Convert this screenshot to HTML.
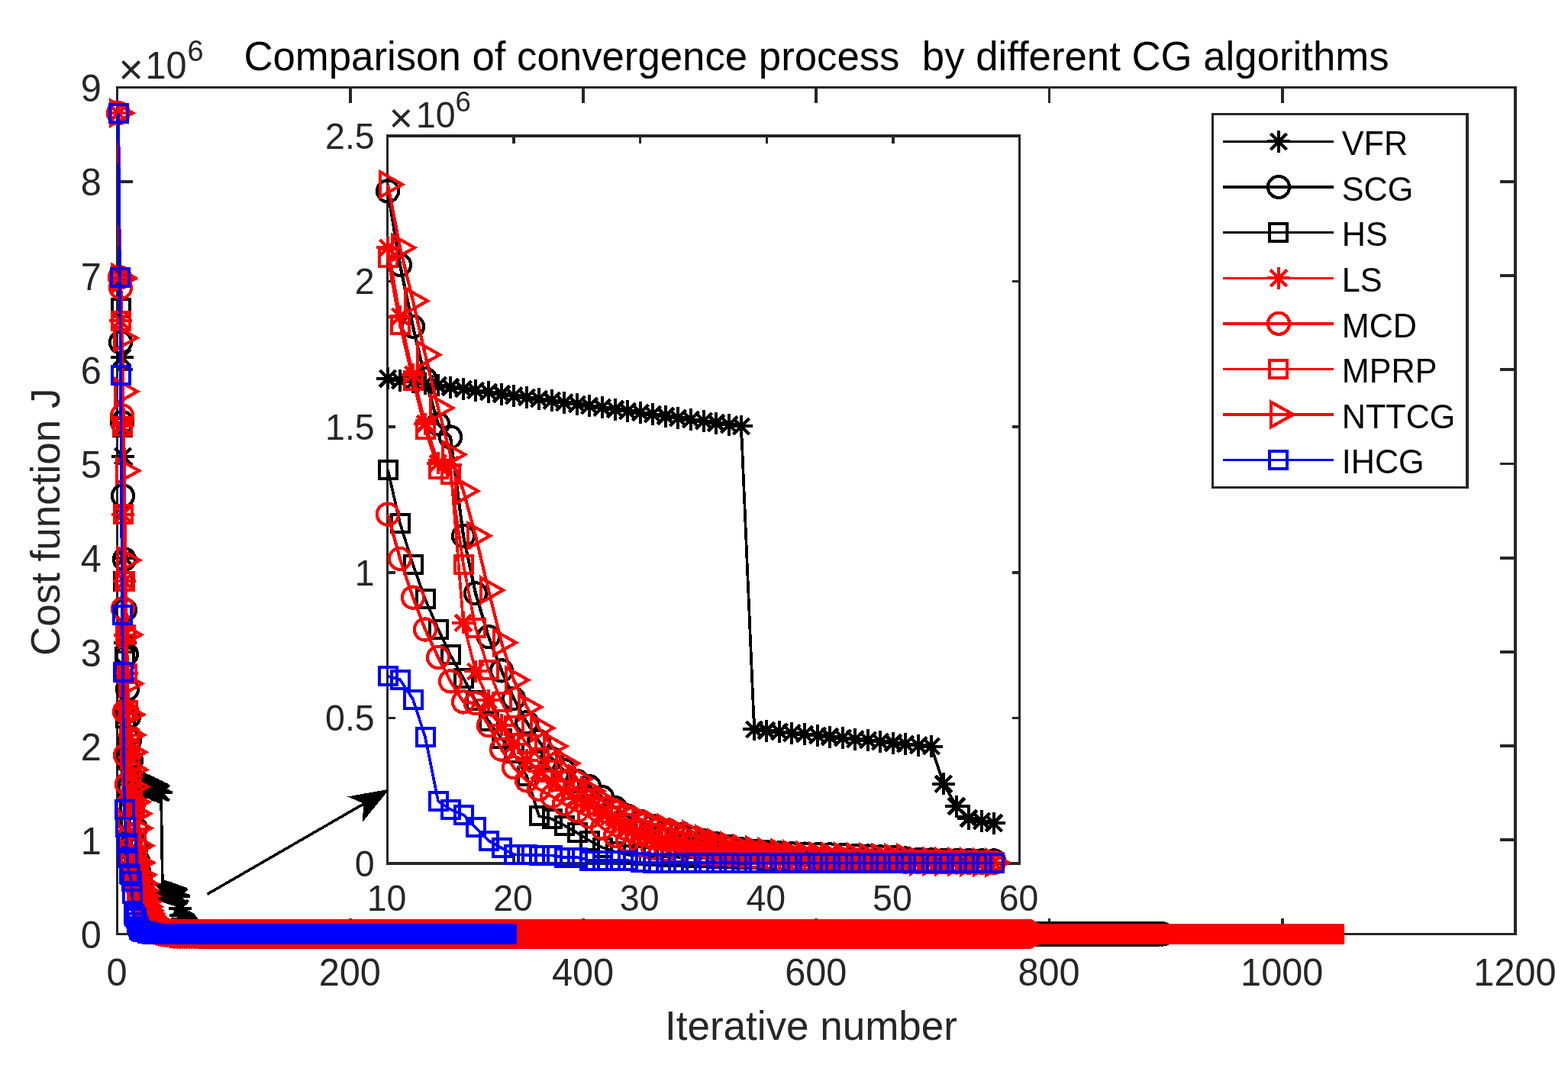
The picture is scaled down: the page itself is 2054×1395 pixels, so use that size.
<!DOCTYPE html>
<html lang="en"><head><meta charset="utf-8"><title>Comparison of convergence process by different CG algorithms</title>
<style>html,body{margin:0;padding:0;background:#fff}body{width:2054px;height:1395px;overflow:hidden}svg{display:block;font-family:"Liberation Sans",Arial,sans-serif}text{white-space:pre;font-variant-ligatures:none;font-kerning:normal}</style></head><body>
<svg width="2054" height="1395" viewBox="0 0 2054 1395" shape-rendering="crispEdges">
<defs><marker id="stk" markerUnits="userSpaceOnUse" markerWidth="60" markerHeight="60" viewBox="-30.0 -30.0 60 60" refX="0" refY="0" overflow="visible"><path d="M-14.9,0H14.9M0,-14.5V14.5" fill="none" stroke="#000" stroke-width="4"/><path d="M-10.60,-10.60L10.60,10.60M-10.60,10.60L10.60,-10.60" fill="none" stroke="#000" stroke-width="4.4"/></marker><marker id="cik" markerUnits="userSpaceOnUse" markerWidth="60" markerHeight="60" viewBox="-30.0 -30.0 60 60" refX="0" refY="0" overflow="visible"><circle r="14.05" fill="none" stroke="#000" stroke-width="4.2"/></marker><marker id="sqk" markerUnits="userSpaceOnUse" markerWidth="60" markerHeight="60" viewBox="-30.0 -30.0 60 60" refX="0" refY="0" overflow="visible"><rect x="-11.5" y="-11.5" width="23" height="23" fill="none" stroke="#000" stroke-width="4"/></marker><marker id="trk" markerUnits="userSpaceOnUse" markerWidth="60" markerHeight="60" viewBox="-30.0 -30.0 60 60" refX="0" refY="0" overflow="visible"><path d="M-9.7,-16.2L19.0,0L-9.7,16.2Z" fill="none" stroke="#000" stroke-width="4.2" stroke-linejoin="miter"/></marker><marker id="str" markerUnits="userSpaceOnUse" markerWidth="60" markerHeight="60" viewBox="-30.0 -30.0 60 60" refX="0" refY="0" overflow="visible"><path d="M-14.9,0H14.9M0,-14.5V14.5" fill="none" stroke="#f00" stroke-width="4"/><path d="M-10.60,-10.60L10.60,10.60M-10.60,10.60L10.60,-10.60" fill="none" stroke="#f00" stroke-width="4.4"/></marker><marker id="cir" markerUnits="userSpaceOnUse" markerWidth="60" markerHeight="60" viewBox="-30.0 -30.0 60 60" refX="0" refY="0" overflow="visible"><circle r="14.05" fill="none" stroke="#f00" stroke-width="4.2"/></marker><marker id="sqr" markerUnits="userSpaceOnUse" markerWidth="60" markerHeight="60" viewBox="-30.0 -30.0 60 60" refX="0" refY="0" overflow="visible"><rect x="-11.5" y="-11.5" width="23" height="23" fill="none" stroke="#f00" stroke-width="4"/></marker><marker id="trr" markerUnits="userSpaceOnUse" markerWidth="60" markerHeight="60" viewBox="-30.0 -30.0 60 60" refX="0" refY="0" overflow="visible"><path d="M-9.7,-16.2L19.0,0L-9.7,16.2Z" fill="none" stroke="#f00" stroke-width="4.2" stroke-linejoin="miter"/></marker><marker id="stb" markerUnits="userSpaceOnUse" markerWidth="60" markerHeight="60" viewBox="-30.0 -30.0 60 60" refX="0" refY="0" overflow="visible"><path d="M-14.9,0H14.9M0,-14.5V14.5" fill="none" stroke="#00f" stroke-width="4"/><path d="M-10.60,-10.60L10.60,10.60M-10.60,10.60L10.60,-10.60" fill="none" stroke="#00f" stroke-width="4.4"/></marker><marker id="cib" markerUnits="userSpaceOnUse" markerWidth="60" markerHeight="60" viewBox="-30.0 -30.0 60 60" refX="0" refY="0" overflow="visible"><circle r="14.05" fill="none" stroke="#00f" stroke-width="4.2"/></marker><marker id="sqb" markerUnits="userSpaceOnUse" markerWidth="60" markerHeight="60" viewBox="-30.0 -30.0 60 60" refX="0" refY="0" overflow="visible"><rect x="-11.5" y="-11.5" width="23" height="23" fill="none" stroke="#00f" stroke-width="4"/></marker><marker id="trb" markerUnits="userSpaceOnUse" markerWidth="60" markerHeight="60" viewBox="-30.0 -30.0 60 60" refX="0" refY="0" overflow="visible"><path d="M-9.7,-16.2L19.0,0L-9.7,16.2Z" fill="none" stroke="#00f" stroke-width="4.2" stroke-linejoin="miter"/></marker></defs>
<rect width="2054" height="1395" fill="#fff"/>
<g fill="#262626"><rect x="152" y="113" width="3" height="1112"/><rect x="1983" y="113" width="4" height="1112"/><rect x="152" y="113" width="1835" height="3"/><rect x="152" y="1222" width="1835" height="3"/></g><path d="M458.8,1223.5v-20.2M458.8,114.5v20.2M764.0,1223.5v-20.2M764.0,114.5v20.2M1069.2,1223.5v-20.2M1069.2,114.5v20.2M1374.5,1223.5v-20.2M1374.5,114.5v20.2M1679.8,1223.5v-20.2M1679.8,114.5v20.2M153.5,1100.3h20.2M1985.0,1100.3h-20.2M153.5,977.1h20.2M1985.0,977.1h-20.2M153.5,853.8h20.2M1985.0,853.8h-20.2M153.5,730.6h20.2M1985.0,730.6h-20.2M153.5,607.4h20.2M1985.0,607.4h-20.2M153.5,484.2h20.2M1985.0,484.2h-20.2M153.5,360.9h20.2M1985.0,360.9h-20.2M153.5,237.7h20.2M1985.0,237.7h-20.2" fill="none" stroke="#262626" stroke-width="3.8"/>
<g fill="#262626" font-size="48.7">
<text transform="translate(153.00,1291.00) scale(1,1.045)" text-anchor="middle">0</text>
<text transform="translate(458.25,1291.00) scale(1,1.045)" text-anchor="middle">200</text>
<text transform="translate(763.50,1291.00) scale(1,1.045)" text-anchor="middle">400</text>
<text transform="translate(1068.75,1291.00) scale(1,1.045)" text-anchor="middle">600</text>
<text transform="translate(1374.00,1291.00) scale(1,1.045)" text-anchor="middle">800</text>
<text transform="translate(1679.25,1291.00) scale(1,1.045)" text-anchor="middle">1000</text>
<text transform="translate(1984.50,1291.00) scale(1,1.045)" text-anchor="middle">1200</text>
<text transform="translate(132.80,1242.25) scale(1,1.045)" text-anchor="end">0</text>
<text transform="translate(132.80,1119.03) scale(1,1.045)" text-anchor="end">1</text>
<text transform="translate(132.80,995.81) scale(1,1.045)" text-anchor="end">2</text>
<text transform="translate(132.80,872.58) scale(1,1.045)" text-anchor="end">3</text>
<text transform="translate(132.80,749.36) scale(1,1.045)" text-anchor="end">4</text>
<text transform="translate(132.80,626.14) scale(1,1.045)" text-anchor="end">5</text>
<text transform="translate(132.80,502.92) scale(1,1.045)" text-anchor="end">6</text>
<text transform="translate(132.80,379.69) scale(1,1.045)" text-anchor="end">7</text>
<text transform="translate(132.80,256.47) scale(1,1.045)" text-anchor="end">8</text>
<text transform="translate(132.80,133.25) scale(1,1.045)" text-anchor="end">9</text>
<text transform="translate(155.20,109.60)" font-size="56">×</text><text transform="translate(190.50,102.80) scale(1,1.045)">10</text><text transform="translate(245.50,79.80) scale(1,1.045)" font-size="38">6</text>
</g>
<text x="1069.5" y="92.0" font-size="52.75" text-anchor="middle" fill="#000">Comparison of convergence process  by different CG algorithms</text>
<text x="1062.5" y="1361.8" font-size="53.0" text-anchor="middle" fill="#262626">Iterative number</text>
<text transform="translate(78.0,683.8) rotate(-90)" font-size="53.0" text-anchor="middle" fill="#262626">Cost function J</text>
<polyline points="155,148.1 157,363.4 158,363.4 160,468.1 161,597.8 163,730.6 164,841.5 166,927.8 167,983.2 169,1018.2 170,1018.9 172,1019.7 173,1020.4 175,1021.1 176,1021.8 178,1022.5 179,1023.3 181,1024.0 182,1024.7 184,1025.4 186,1026.2 187,1026.9 189,1027.6 190,1028.3 192,1029.0 193,1029.8 195,1030.5 196,1031.2 198,1031.9 199,1032.6 201,1033.4 202,1034.1 204,1034.8 205,1035.5 207,1036.3 208,1037.0 210,1037.7 211,1038.4 213,1166.7 215,1167.2 216,1167.8 218,1168.3 219,1168.8 221,1169.3 222,1169.8 224,1170.3 225,1170.9 227,1171.4 228,1171.9 230,1172.4 231,1172.9 233,1173.4 234,1174.0 236,1189.9 237,1199.3 239,1204.4 240,1205.6 242,1206.4 244,1208.1 245,1209.9 247,1211.8 248,1213.6 250,1215.4 251,1217.0 253,1218.4 254,1219.8 256,1220.9 257,1221.8 259,1222.4 260,1222.9 262,1223.1 263,1223.3 265,1223.4 266,1223.4 268,1223.4 269,1223.4 271,1223.4 273,1223.4 274,1223.4 276,1223.4 277,1223.4 279,1223.4 280,1223.4 282,1223.4 283,1223.4 285,1223.4 286,1223.4 288,1223.4 289,1223.4 291,1223.4 292,1223.4 294,1223.4 295,1223.4 297,1223.4 298,1223.4 300,1223.4 302,1223.4 303,1223.4 305,1223.4 306,1223.4 308,1223.4 309,1223.4 311,1223.4 312,1223.4 314,1223.4 315,1223.4 317,1223.4 318,1223.4 320,1223.4 321,1223.4 323,1223.4 324,1223.4 326,1223.4 327,1223.4 329,1223.4 331,1223.4 332,1223.4 334,1223.4 335,1223.4 337,1223.4 338,1223.4 340,1223.4 341,1223.4 343,1223.4 344,1223.4 346,1223.4 347,1223.4 349,1223.4 350,1223.4 352,1223.4 353,1223.4 355,1223.4 356,1223.4 358,1223.4 360,1223.4 361,1223.4 363,1223.4 364,1223.4 366,1223.4 367,1223.4 369,1223.4 370,1223.4 372,1223.4 373,1223.4 375,1223.4 376,1223.4 378,1223.4 379,1223.4 381,1223.4 382,1223.4 384,1223.4 385,1223.4 387,1223.4 389,1223.4 390,1223.4 392,1223.4 393,1223.4 395,1223.4 396,1223.4 398,1223.4 399,1223.4 401,1223.4 402,1223.4 404,1223.4 405,1223.4 407,1223.4 408,1223.4 410,1223.4 411,1223.4 413,1223.4 414,1223.4 416,1223.4 418,1223.4 419,1223.4 421,1223.4 422,1223.4 424,1223.4 425,1223.4 427,1223.4 428,1223.4 430,1223.4 431,1223.4 433,1223.4 434,1223.4 436,1223.4 437,1223.4 439,1223.4 440,1223.4 442,1223.4 443,1223.4 445,1223.4 447,1223.4 448,1223.4 450,1223.4 451,1223.4 453,1223.4 454,1223.4 456,1223.4 457,1223.4 459,1223.4 460,1223.4 462,1223.4 463,1223.4 465,1223.4 466,1223.4 468,1223.4 469,1223.4 471,1223.4 472,1223.4 474,1223.4 476,1223.4 477,1223.4 479,1223.4 480,1223.4 482,1223.4 483,1223.4 485,1223.4 486,1223.4 488,1223.4 489,1223.4 491,1223.4 492,1223.4 494,1223.4 495,1223.4 497,1223.4 498,1223.4 500,1223.4 501,1223.4 503,1223.4 505,1223.4 506,1223.4 508,1223.4 509,1223.4 511,1223.4 512,1223.4 514,1223.4 515,1223.4 517,1223.4 518,1223.4 520,1223.4 521,1223.4 523,1223.4 524,1223.4 526,1223.4 527,1223.4 529,1223.4 530,1223.4 532,1223.4 534,1223.4 535,1223.4 537,1223.4 538,1223.4 540,1223.4 541,1223.4 543,1223.4 544,1223.4 546,1223.4 547,1223.4 549,1223.4 550,1223.4 552,1223.4 553,1223.4 555,1223.4 556,1223.4 558,1223.4 559,1223.4 561,1223.4 563,1223.4 564,1223.4 566,1223.4 567,1223.4 569,1223.4 570,1223.4 572,1223.4 573,1223.4 575,1223.4 576,1223.4 578,1223.4 579,1223.4 581,1223.4 582,1223.4 584,1223.4 585,1223.4 587,1223.4 588,1223.4 590,1223.4 592,1223.4 593,1223.4 595,1223.4 596,1223.4 598,1223.4 599,1223.4 601,1223.4 602,1223.4 604,1223.4 605,1223.4 607,1223.4 608,1223.4 610,1223.4 611,1223.4" fill="none" stroke="#000" stroke-width="3.7" stroke-linejoin="round" marker-start="url(#stk)" marker-mid="url(#stk)" marker-end="url(#stk)"/>
<polyline points="155,148.1 157,363.4 158,448.4 160,553.2 161,649.5 163,732.6 164,799.1 166,857.0 167,902.8 169,938.9 170,970.0 172,996.2 173,1018.3 175,1037.4 176,1043.0 178,1084.9 179,1109.1 181,1127.6 182,1141.8 184,1153.6 186,1163.7 187,1171.7 189,1179.1 190,1184.1 192,1188.6 193,1190.8 195,1195.4 196,1200.0 198,1203.3 199,1205.6 201,1207.7 202,1209.6 204,1211.2 205,1212.7 207,1213.9 208,1215.1 210,1216.4 211,1217.5 213,1218.4 215,1218.7 216,1219.1 218,1219.3 219,1219.5 221,1219.6 222,1219.7 224,1219.9 225,1220.2 227,1220.4 228,1220.7 230,1221.0 231,1221.4 233,1221.8 234,1222.0 236,1222.2 237,1222.3 239,1222.3 240,1222.3 242,1222.3 244,1222.4 245,1222.6 247,1222.6 248,1222.7 250,1222.8 251,1222.9 253,1222.9 254,1223.0 256,1223.0 257,1223.1 259,1223.1 260,1223.2 262,1223.2 263,1223.2 265,1223.3 266,1223.3 268,1223.3 269,1223.3 271,1223.3 273,1223.4 274,1223.4 276,1223.4 277,1223.4 279,1223.4 280,1223.4 282,1223.4 283,1223.4 285,1223.4 286,1223.4 288,1223.4 289,1223.4 291,1223.4 292,1223.4 294,1223.4 295,1223.4 297,1223.4 298,1223.4 300,1223.4 302,1223.4 303,1223.4 305,1223.4 306,1223.4 308,1223.4 309,1223.4 311,1223.4 312,1223.4 314,1223.4 315,1223.4 317,1223.4 318,1223.4 320,1223.4 321,1223.4 323,1223.4 324,1223.4 326,1223.4 327,1223.4 329,1223.4 331,1223.4 332,1223.4 334,1223.4 335,1223.4 337,1223.4 338,1223.4 340,1223.4 341,1223.4 343,1223.4 344,1223.4 346,1223.4 347,1223.4 349,1223.4 350,1223.4 352,1223.4 353,1223.4 355,1223.4 356,1223.4 358,1223.4 360,1223.4 361,1223.4 363,1223.4 364,1223.4 366,1223.4 367,1223.4 369,1223.4 370,1223.4 372,1223.4 373,1223.4 375,1223.4 376,1223.4 378,1223.4 379,1223.4 381,1223.4 382,1223.4 384,1223.4 385,1223.4 387,1223.4 389,1223.4 390,1223.4 392,1223.4 393,1223.4 395,1223.4 396,1223.4 398,1223.4 399,1223.4 401,1223.4 402,1223.4 404,1223.4 405,1223.4 407,1223.4 408,1223.4 410,1223.4 411,1223.4 413,1223.4 414,1223.4 416,1223.4 418,1223.4 419,1223.4 421,1223.4 422,1223.4 424,1223.4 425,1223.4 427,1223.4 428,1223.4 430,1223.4 431,1223.4 433,1223.4 434,1223.4 436,1223.4 437,1223.4 439,1223.4 440,1223.4 442,1223.4 443,1223.4 445,1223.4 447,1223.4 448,1223.4 450,1223.4 451,1223.4 453,1223.4 454,1223.4 456,1223.4 457,1223.4 459,1223.4 460,1223.4 462,1223.4 463,1223.4 465,1223.4 466,1223.4 468,1223.4 469,1223.4 471,1223.4 472,1223.4 474,1223.4 476,1223.4 477,1223.4 479,1223.4 480,1223.4 482,1223.4 483,1223.4 485,1223.4 486,1223.4 488,1223.4 489,1223.4 491,1223.4 492,1223.4 494,1223.4 495,1223.4 497,1223.4 498,1223.4 500,1223.4 501,1223.4 503,1223.4 505,1223.4 506,1223.4 508,1223.4 509,1223.4 511,1223.4 512,1223.4 514,1223.4 515,1223.4 517,1223.4 518,1223.4 520,1223.4 521,1223.4 523,1223.4 524,1223.4 526,1223.4 527,1223.4 529,1223.4 530,1223.4 532,1223.4 534,1223.4 535,1223.4 537,1223.4 538,1223.4 540,1223.4 541,1223.4 543,1223.4 544,1223.4 546,1223.4 547,1223.4 549,1223.4 550,1223.4 552,1223.4 553,1223.4 555,1223.4 556,1223.4 558,1223.4 559,1223.4 561,1223.4 563,1223.4 564,1223.4 566,1223.4 567,1223.4 569,1223.4 570,1223.4 572,1223.4 573,1223.4 575,1223.4 576,1223.4 578,1223.4 579,1223.4 581,1223.4 582,1223.4 584,1223.4 585,1223.4 587,1223.4 588,1223.4 590,1223.4 592,1223.4 593,1223.4 595,1223.4 596,1223.4 598,1223.4 599,1223.4 601,1223.4 602,1223.4 604,1223.4 605,1223.4 607,1223.4 608,1223.4 610,1223.4 611,1223.4 613,1223.4 614,1223.4 616,1223.4 617,1223.4 619,1223.4 621,1223.4 622,1223.4 624,1223.4 625,1223.4 627,1223.4 628,1223.4 630,1223.4 631,1223.4 633,1223.4 634,1223.4 636,1223.4 637,1223.4 639,1223.4 640,1223.4 642,1223.4 643,1223.4 645,1223.4 646,1223.4 648,1223.4 650,1223.4 651,1223.4 653,1223.4 654,1223.4 656,1223.4 657,1223.4 659,1223.4 660,1223.4 662,1223.4 663,1223.4 665,1223.4 666,1223.4 668,1223.4 669,1223.4 671,1223.4 672,1223.4 674,1223.4 675,1223.4 677,1223.4 679,1223.4 680,1223.4 682,1223.4 683,1223.4 685,1223.4 686,1223.4 688,1223.4 689,1223.4 691,1223.4 692,1223.4 694,1223.4 695,1223.4 697,1223.4 698,1223.4 700,1223.4 701,1223.4 703,1223.4 704,1223.4 706,1223.4 708,1223.4 709,1223.4 711,1223.4 712,1223.4 714,1223.4 715,1223.4 717,1223.4 718,1223.4 720,1223.4 721,1223.4 723,1223.4 724,1223.4 726,1223.4 727,1223.4 729,1223.4 730,1223.4 732,1223.4 733,1223.4 735,1223.4 737,1223.4 738,1223.4 740,1223.4 741,1223.4 743,1223.4 744,1223.4 746,1223.4 747,1223.4 749,1223.4 750,1223.4 752,1223.4 753,1223.4 755,1223.4 756,1223.4 758,1223.4 759,1223.4 761,1223.4 762,1223.4 764,1223.4 766,1223.4 767,1223.4 769,1223.4 770,1223.4 772,1223.4 773,1223.4 775,1223.4 776,1223.4 778,1223.4 779,1223.4 781,1223.4 782,1223.4 784,1223.4 785,1223.4 787,1223.4 788,1223.4 790,1223.4 791,1223.4 793,1223.4 795,1223.4 796,1223.4 798,1223.4 799,1223.4 801,1223.4 802,1223.4 804,1223.4 805,1223.4 807,1223.4 808,1223.4 810,1223.4 811,1223.4 813,1223.4 814,1223.4 816,1223.4 817,1223.4 819,1223.4 820,1223.4 822,1223.4 824,1223.4 825,1223.4 827,1223.4 828,1223.4 830,1223.4 831,1223.4 833,1223.4 834,1223.4 836,1223.4 837,1223.4 839,1223.4 840,1223.4 842,1223.4 843,1223.4 845,1223.4 846,1223.4 848,1223.4 849,1223.4 851,1223.4 853,1223.4 854,1223.4 856,1223.4 857,1223.4 859,1223.4 860,1223.4 862,1223.4 863,1223.4 865,1223.4 866,1223.4 868,1223.4 869,1223.4 871,1223.4 872,1223.4 874,1223.4 875,1223.4 877,1223.4 878,1223.4 880,1223.4 882,1223.4 883,1223.4 885,1223.4 886,1223.4 888,1223.4 889,1223.4 891,1223.4 892,1223.4 894,1223.4 895,1223.4 897,1223.4 898,1223.4 900,1223.4 901,1223.4 903,1223.4 904,1223.4 906,1223.4 907,1223.4 909,1223.4 911,1223.4 912,1223.4 914,1223.4 915,1223.4 917,1223.4 918,1223.4 920,1223.4 921,1223.4 923,1223.4 924,1223.4 926,1223.4 927,1223.4 929,1223.4 930,1223.4 932,1223.4 933,1223.4 935,1223.4 936,1223.4 938,1223.4 940,1223.4 941,1223.4 943,1223.4 944,1223.4 946,1223.4 947,1223.4 949,1223.4 950,1223.4 952,1223.4 953,1223.4 955,1223.4 956,1223.4 958,1223.4 959,1223.4 961,1223.4 962,1223.4 964,1223.4 965,1223.4 967,1223.4 969,1223.4 970,1223.4 972,1223.4 973,1223.4 975,1223.4 976,1223.4 978,1223.4 979,1223.4 981,1223.4 982,1223.4 984,1223.4 985,1223.4 987,1223.4 988,1223.4 990,1223.4 991,1223.4 993,1223.4 994,1223.4 996,1223.4 998,1223.4 999,1223.4 1001,1223.4 1002,1223.4 1004,1223.4 1005,1223.4 1007,1223.4 1008,1223.4 1010,1223.4 1011,1223.4 1013,1223.4 1014,1223.4 1016,1223.4 1017,1223.4 1019,1223.4 1020,1223.4 1022,1223.4 1023,1223.4 1025,1223.4 1027,1223.4 1028,1223.4 1030,1223.4 1031,1223.4 1033,1223.4 1034,1223.4 1036,1223.4 1037,1223.4 1039,1223.4 1040,1223.4 1042,1223.4 1043,1223.4 1045,1223.4 1046,1223.4 1048,1223.4 1049,1223.4 1051,1223.4 1052,1223.4 1054,1223.4 1056,1223.4 1057,1223.4 1059,1223.4 1060,1223.4 1062,1223.4 1063,1223.4 1065,1223.4 1066,1223.4 1068,1223.4 1069,1223.4 1071,1223.4 1072,1223.4 1074,1223.4 1075,1223.4 1077,1223.4 1078,1223.4 1080,1223.4 1081,1223.4 1083,1223.4 1085,1223.4 1086,1223.4 1088,1223.4 1089,1223.4 1091,1223.4 1092,1223.4 1094,1223.4 1095,1223.4 1097,1223.4 1098,1223.4 1100,1223.4 1101,1223.4 1103,1223.4 1104,1223.4 1106,1223.4 1107,1223.4 1109,1223.4 1110,1223.4 1112,1223.4 1114,1223.4 1115,1223.4 1117,1223.4 1118,1223.4 1120,1223.4 1121,1223.4 1123,1223.4 1124,1223.4 1126,1223.4 1127,1223.4 1129,1223.4 1130,1223.4 1132,1223.4 1133,1223.4 1135,1223.4 1136,1223.4 1138,1223.4 1139,1223.4 1141,1223.4 1143,1223.4 1144,1223.4 1146,1223.4 1147,1223.4 1149,1223.4 1150,1223.4 1152,1223.4 1153,1223.4 1155,1223.4 1156,1223.4 1158,1223.4 1159,1223.4 1161,1223.4 1162,1223.4 1164,1223.4 1165,1223.4 1167,1223.4 1168,1223.4 1170,1223.4 1172,1223.4 1173,1223.4 1175,1223.4 1176,1223.4 1178,1223.4 1179,1223.4 1181,1223.4 1182,1223.4 1184,1223.4 1185,1223.4 1187,1223.4 1188,1223.4 1190,1223.4 1191,1223.4 1193,1223.4 1194,1223.4 1196,1223.4 1197,1223.4 1199,1223.4 1201,1223.4 1202,1223.4 1204,1223.4 1205,1223.4 1207,1223.4 1208,1223.4 1210,1223.4 1211,1223.4 1213,1223.4 1214,1223.4 1216,1223.4 1217,1223.4 1219,1223.4 1220,1223.4 1222,1223.4 1223,1223.4 1225,1223.4 1226,1223.4 1228,1223.4 1230,1223.4 1231,1223.4 1233,1223.4 1234,1223.4 1236,1223.4 1237,1223.4 1239,1223.4 1240,1223.4 1242,1223.4 1243,1223.4 1245,1223.4 1246,1223.4 1248,1223.4 1249,1223.4 1251,1223.4 1252,1223.4 1254,1223.4 1255,1223.4 1257,1223.4 1259,1223.4 1260,1223.4 1262,1223.4 1263,1223.4 1265,1223.4 1266,1223.4 1268,1223.4 1269,1223.4 1271,1223.4 1272,1223.4 1274,1223.4 1275,1223.4 1277,1223.4 1278,1223.4 1280,1223.4 1281,1223.4 1283,1223.4 1284,1223.4 1286,1223.4 1288,1223.4 1289,1223.4 1291,1223.4 1292,1223.4 1294,1223.4 1295,1223.4 1297,1223.4 1298,1223.4 1300,1223.4 1301,1223.4 1303,1223.4 1304,1223.4 1306,1223.4 1307,1223.4 1309,1223.4 1310,1223.4 1312,1223.4 1313,1223.4 1315,1223.4 1317,1223.4 1318,1223.4 1320,1223.4 1321,1223.4 1323,1223.4 1324,1223.4 1326,1223.4 1327,1223.4 1329,1223.4 1330,1223.4 1332,1223.4 1333,1223.4 1335,1223.4 1336,1223.4 1338,1223.4 1339,1223.4 1341,1223.4 1342,1223.4 1344,1223.4 1346,1223.4 1347,1223.4 1349,1223.4 1350,1223.4 1352,1223.4 1353,1223.4 1355,1223.4 1356,1223.4 1358,1223.4 1359,1223.4 1361,1223.4 1362,1223.4 1364,1223.4 1365,1223.4 1367,1223.4 1368,1223.4 1370,1223.4 1371,1223.4 1373,1223.4 1374,1223.4 1376,1223.4 1378,1223.4 1379,1223.4 1381,1223.4 1382,1223.4 1384,1223.4 1385,1223.4 1387,1223.4 1388,1223.4 1390,1223.4 1391,1223.4 1393,1223.4 1394,1223.4 1396,1223.4 1397,1223.4 1399,1223.4 1400,1223.4 1402,1223.4 1403,1223.4 1405,1223.4 1407,1223.4 1408,1223.4 1410,1223.4 1411,1223.4 1413,1223.4 1414,1223.4 1416,1223.4 1417,1223.4 1419,1223.4 1420,1223.4 1422,1223.4 1423,1223.4 1425,1223.4 1426,1223.4 1428,1223.4 1429,1223.4 1431,1223.4 1432,1223.4 1434,1223.4 1436,1223.4 1437,1223.4 1439,1223.4 1440,1223.4 1442,1223.4 1443,1223.4 1445,1223.4 1446,1223.4 1448,1223.4 1449,1223.4 1451,1223.4 1452,1223.4 1454,1223.4 1455,1223.4 1457,1223.4 1458,1223.4 1460,1223.4 1461,1223.4 1463,1223.4 1465,1223.4 1466,1223.4 1468,1223.4 1469,1223.4 1471,1223.4 1472,1223.4 1474,1223.4 1475,1223.4 1477,1223.4 1478,1223.4 1480,1223.4 1481,1223.4 1483,1223.4 1484,1223.4 1486,1223.4 1487,1223.4 1489,1223.4 1490,1223.4 1492,1223.4 1494,1223.4 1495,1223.4 1497,1223.4 1498,1223.4 1500,1223.4 1501,1223.4 1503,1223.4 1504,1223.4 1506,1223.4 1507,1223.4 1509,1223.4 1510,1223.4 1512,1223.4 1513,1223.4 1515,1223.4 1516,1223.4 1518,1223.4 1519,1223.4 1521,1223.4 1523,1223.4" fill="none" stroke="#000" stroke-width="4.2" stroke-linejoin="round" marker-start="url(#cik)" marker-mid="url(#cik)" marker-end="url(#cik)"/>
<polyline points="155,148.1 157,363.4 158,403.5 160,559.3 161,761.4 163,860.0 164,940.1 166,995.5 167,1032.5 169,1056.8 170,1079.5 172,1097.0 173,1111.6 175,1124.3 176,1135.2 178,1145.0 179,1154.5 181,1163.1 182,1170.5 184,1176.7 186,1186.5 187,1203.4 189,1204.6 190,1207.4 192,1210.5 193,1213.8 195,1216.7 196,1218.6 198,1219.8 199,1220.1 201,1220.3 202,1220.6 204,1220.8 205,1221.0 207,1221.2 208,1221.4 210,1221.5 211,1221.7 213,1221.8 215,1222.0 216,1222.1 218,1222.2 219,1222.3 221,1222.4 222,1222.5 224,1222.5 225,1222.6 227,1222.7 228,1222.7 230,1222.8 231,1222.9 233,1222.9 234,1223.0 236,1223.0 237,1223.0 239,1223.1 240,1223.1 242,1223.1 244,1223.2 245,1223.2 247,1223.2 248,1223.3 250,1223.3 251,1223.3 253,1223.3 254,1223.3 256,1223.4 257,1223.4 259,1223.4 260,1223.4 262,1223.4 263,1223.4 265,1223.4 266,1223.4 268,1223.4 269,1223.4 271,1223.4 273,1223.4 274,1223.4 276,1223.4 277,1223.4 279,1223.4 280,1223.4 282,1223.4 283,1223.4 285,1223.4 286,1223.4 288,1223.4 289,1223.4 291,1223.4 292,1223.4 294,1223.4 295,1223.4 297,1223.4 298,1223.4 300,1223.4 302,1223.4 303,1223.4 305,1223.4 306,1223.4 308,1223.4 309,1223.4 311,1223.4 312,1223.4 314,1223.4 315,1223.4 317,1223.4 318,1223.4 320,1223.4 321,1223.4 323,1223.4 324,1223.4 326,1223.4 327,1223.4 329,1223.4 331,1223.4 332,1223.4 334,1223.4 335,1223.4 337,1223.4 338,1223.4 340,1223.4 341,1223.4 343,1223.4 344,1223.4 346,1223.4 347,1223.4 349,1223.4 350,1223.4 352,1223.4 353,1223.4 355,1223.4 356,1223.4 358,1223.4 360,1223.4 361,1223.4 363,1223.4 364,1223.4 366,1223.4 367,1223.4 369,1223.4 370,1223.4 372,1223.4 373,1223.4 375,1223.4 376,1223.4 378,1223.4 379,1223.4 381,1223.4 382,1223.4 384,1223.4 385,1223.4 387,1223.4 389,1223.4 390,1223.4 392,1223.4 393,1223.4 395,1223.4 396,1223.4 398,1223.4 399,1223.4 401,1223.4 402,1223.4 404,1223.4 405,1223.4 407,1223.4 408,1223.4 410,1223.4 411,1223.4 413,1223.4 414,1223.4 416,1223.4 418,1223.4 419,1223.4 421,1223.4 422,1223.4 424,1223.4 425,1223.4 427,1223.4 428,1223.4 430,1223.4 431,1223.4 433,1223.4 434,1223.4 436,1223.4 437,1223.4 439,1223.4 440,1223.4 442,1223.4 443,1223.4 445,1223.4 447,1223.4 448,1223.4 450,1223.4 451,1223.4 453,1223.4 454,1223.4 456,1223.4 457,1223.4 459,1223.4 460,1223.4 462,1223.4 463,1223.4 465,1223.4 466,1223.4 468,1223.4 469,1223.4 471,1223.4 472,1223.4 474,1223.4 476,1223.4 477,1223.4 479,1223.4 480,1223.4 482,1223.4 483,1223.4 485,1223.4 486,1223.4 488,1223.4 489,1223.4 491,1223.4 492,1223.4 494,1223.4 495,1223.4 497,1223.4 498,1223.4 500,1223.4 501,1223.4 503,1223.4 505,1223.4 506,1223.4 508,1223.4 509,1223.4 511,1223.4 512,1223.4 514,1223.4 515,1223.4 517,1223.4 518,1223.4 520,1223.4 521,1223.4 523,1223.4 524,1223.4 526,1223.4 527,1223.4 529,1223.4 530,1223.4 532,1223.4 534,1223.4 535,1223.4 537,1223.4 538,1223.4 540,1223.4 541,1223.4 543,1223.4 544,1223.4 546,1223.4 547,1223.4 549,1223.4 550,1223.4 552,1223.4 553,1223.4 555,1223.4 556,1223.4 558,1223.4 559,1223.4 561,1223.4 563,1223.4 564,1223.4 566,1223.4 567,1223.4 569,1223.4 570,1223.4 572,1223.4 573,1223.4 575,1223.4 576,1223.4 578,1223.4 579,1223.4 581,1223.4 582,1223.4 584,1223.4 585,1223.4 587,1223.4 588,1223.4 590,1223.4 592,1223.4 593,1223.4 595,1223.4 596,1223.4 598,1223.4 599,1223.4 601,1223.4 602,1223.4 604,1223.4 605,1223.4 607,1223.4 608,1223.4 610,1223.4 611,1223.4" fill="none" stroke="#000" stroke-width="3.7" stroke-linejoin="round" marker-start="url(#sqk)" marker-mid="url(#sqk)" marker-end="url(#sqk)"/>
<polyline points="155,148.1 157,363.4 158,420.1 160,558.1 161,673.6 163,761.3 164,831.7 166,882.2 167,927.8 169,962.8 170,992.0 172,1016.5 173,1037.3 175,1054.1 176,1054.7 178,1121.7 179,1142.2 181,1154.4 182,1164.8 184,1173.0 186,1179.8 187,1184.5 189,1188.7 190,1192.5 192,1195.9 193,1198.9 195,1202.6 196,1205.9 198,1208.8 199,1211.2 201,1212.7 202,1214.1 204,1215.3 205,1216.4 207,1217.3 208,1218.1 210,1218.6 211,1219.1 213,1219.6 215,1220.0 216,1220.4 218,1220.7 219,1221.0 221,1221.2 222,1221.5 224,1221.7 225,1221.9 227,1222.0 228,1222.2 230,1222.3 231,1222.4 233,1222.6 234,1222.6 236,1222.7 237,1222.8 239,1222.9 240,1223.0 242,1223.0 244,1223.1 245,1223.1 247,1223.1 248,1223.2 250,1223.2 251,1223.2 253,1223.3 254,1223.3 256,1223.3 257,1223.3 259,1223.3 260,1223.4 262,1223.4 263,1223.4 265,1223.4 266,1223.4 268,1223.4 269,1223.4 271,1223.4 273,1223.4 274,1223.4 276,1223.4 277,1223.4 279,1223.4 280,1223.4 282,1223.4 283,1223.4 285,1223.4 286,1223.4 288,1223.4 289,1223.4 291,1223.4 292,1223.4 294,1223.4 295,1223.4 297,1223.4 298,1223.4 300,1223.4 302,1223.4 303,1223.4 305,1223.4 306,1223.4 308,1223.4 309,1223.4 311,1223.4 312,1223.4 314,1223.4 315,1223.4 317,1223.4 318,1223.4 320,1223.4 321,1223.4 323,1223.4 324,1223.4 326,1223.4 327,1223.4 329,1223.4 331,1223.4 332,1223.4 334,1223.4 335,1223.4 337,1223.4 338,1223.4 340,1223.4 341,1223.4 343,1223.4 344,1223.4 346,1223.4 347,1223.4 349,1223.4 350,1223.4 352,1223.4 353,1223.4 355,1223.4 356,1223.4 358,1223.4 360,1223.4 361,1223.4 363,1223.4 364,1223.4 366,1223.4 367,1223.4 369,1223.4 370,1223.4 372,1223.4 373,1223.4 375,1223.4 376,1223.4 378,1223.4 379,1223.4 381,1223.4 382,1223.4 384,1223.4 385,1223.4 387,1223.4 389,1223.4 390,1223.4 392,1223.4 393,1223.4 395,1223.4 396,1223.4 398,1223.4 399,1223.4 401,1223.4 402,1223.4 404,1223.4 405,1223.4 407,1223.4 408,1223.4 410,1223.4 411,1223.4 413,1223.4 414,1223.4 416,1223.4 418,1223.4 419,1223.4 421,1223.4 422,1223.4 424,1223.4 425,1223.4 427,1223.4 428,1223.4 430,1223.4 431,1223.4 433,1223.4 434,1223.4 436,1223.4 437,1223.4 439,1223.4 440,1223.4 442,1223.4 443,1223.4 445,1223.4 447,1223.4 448,1223.4 450,1223.4 451,1223.4 453,1223.4 454,1223.4 456,1223.4 457,1223.4 459,1223.4 460,1223.4 462,1223.4 463,1223.4 465,1223.4 466,1223.4 468,1223.4 469,1223.4 471,1223.4 472,1223.4 474,1223.4 476,1223.4 477,1223.4 479,1223.4 480,1223.4 482,1223.4 483,1223.4 485,1223.4 486,1223.4 488,1223.4 489,1223.4 491,1223.4 492,1223.4 494,1223.4 495,1223.4 497,1223.4 498,1223.4 500,1223.4 501,1223.4 503,1223.4 505,1223.4 506,1223.4 508,1223.4 509,1223.4 511,1223.4 512,1223.4 514,1223.4 515,1223.4 517,1223.4 518,1223.4 520,1223.4 521,1223.4 523,1223.4 524,1223.4 526,1223.4 527,1223.4 529,1223.4 530,1223.4 532,1223.4 534,1223.4 535,1223.4 537,1223.4 538,1223.4 540,1223.4 541,1223.4 543,1223.4 544,1223.4 546,1223.4 547,1223.4 549,1223.4 550,1223.4 552,1223.4 553,1223.4 555,1223.4 556,1223.4 558,1223.4 559,1223.4 561,1223.4 563,1223.4 564,1223.4 566,1223.4 567,1223.4 569,1223.4 570,1223.4 572,1223.4 573,1223.4 575,1223.4 576,1223.4 578,1223.4 579,1223.4 581,1223.4 582,1223.4 584,1223.4 585,1223.4 587,1223.4 588,1223.4 590,1223.4 592,1223.4 593,1223.4 595,1223.4 596,1223.4 598,1223.4 599,1223.4 601,1223.4 602,1223.4 604,1223.4 605,1223.4 607,1223.4 608,1223.4 610,1223.4 611,1223.4" fill="none" stroke="#f00" stroke-width="3.7" stroke-linejoin="round" marker-start="url(#str)" marker-mid="url(#str)" marker-end="url(#str)"/>
<polyline points="155,148.1 157,363.4 158,377.0 160,544.5 161,797.2 163,932.2 164,989.4 166,1027.2 167,1054.7 169,1075.6 170,1094.5 172,1110.9 173,1124.4 175,1136.3 176,1146.4 178,1155.1 179,1155.7 181,1165.1 182,1175.2 184,1182.8 186,1188.4 187,1192.1 189,1195.2 190,1198.2 192,1201.3 193,1203.8 195,1208.5 196,1211.8 198,1213.9 199,1215.6 201,1217.0 202,1217.6 204,1218.2 205,1218.8 207,1219.2 208,1219.7 210,1220.0 211,1220.4 213,1220.7 215,1221.0 216,1221.2 218,1221.5 219,1221.7 221,1221.9 222,1222.0 224,1222.2 225,1222.3 227,1222.4 228,1222.5 230,1222.6 231,1222.7 233,1222.8 234,1222.9 236,1222.9 237,1223.0 239,1223.0 240,1223.1 242,1223.1 244,1223.2 245,1223.2 247,1223.2 248,1223.3 250,1223.3 251,1223.3 253,1223.3 254,1223.3 256,1223.4 257,1223.4 259,1223.4 260,1223.4 262,1223.4 263,1223.4 265,1223.4 266,1223.4 268,1223.4 269,1223.4 271,1223.4 273,1223.4 274,1223.4 276,1223.4 277,1223.4 279,1223.4 280,1223.4 282,1223.4 283,1223.4 285,1223.4 286,1223.4 288,1223.4 289,1223.4 291,1223.4 292,1223.4 294,1223.4 295,1223.4 297,1223.4 298,1223.4 300,1223.4 302,1223.4 303,1223.4 305,1223.4 306,1223.4 308,1223.4 309,1223.4 311,1223.4 312,1223.4 314,1223.4 315,1223.4 317,1223.4 318,1223.4 320,1223.4 321,1223.4 323,1223.4 324,1223.4 326,1223.4 327,1223.4 329,1223.4 331,1223.4 332,1223.4 334,1223.4 335,1223.4 337,1223.4 338,1223.4 340,1223.4 341,1223.4 343,1223.4 344,1223.4 346,1223.4 347,1223.4 349,1223.4 350,1223.4 352,1223.4 353,1223.4 355,1223.4 356,1223.4 358,1223.4 360,1223.4 361,1223.4 363,1223.4 364,1223.4 366,1223.4 367,1223.4 369,1223.4 370,1223.4 372,1223.4 373,1223.4 375,1223.4 376,1223.4 378,1223.4 379,1223.4 381,1223.4 382,1223.4 384,1223.4 385,1223.4 387,1223.4 389,1223.4 390,1223.4 392,1223.4 393,1223.4 395,1223.4 396,1223.4 398,1223.4 399,1223.4 401,1223.4 402,1223.4 404,1223.4 405,1223.4 407,1223.4 408,1223.4 410,1223.4 411,1223.4 413,1223.4 414,1223.4 416,1223.4 418,1223.4 419,1223.4 421,1223.4 422,1223.4 424,1223.4 425,1223.4 427,1223.4 428,1223.4 430,1223.4 431,1223.4 433,1223.4 434,1223.4 436,1223.4 437,1223.4 439,1223.4 440,1223.4 442,1223.4 443,1223.4 445,1223.4 447,1223.4 448,1223.4 450,1223.4 451,1223.4 453,1223.4 454,1223.4 456,1223.4 457,1223.4 459,1223.4 460,1223.4 462,1223.4 463,1223.4 465,1223.4 466,1223.4 468,1223.4 469,1223.4 471,1223.4 472,1223.4 474,1223.4 476,1223.4 477,1223.4 479,1223.4 480,1223.4 482,1223.4 483,1223.4 485,1223.4 486,1223.4 488,1223.4 489,1223.4 491,1223.4 492,1223.4 494,1223.4 495,1223.4 497,1223.4 498,1223.4 500,1223.4 501,1223.4 503,1223.4 505,1223.4 506,1223.4 508,1223.4 509,1223.4 511,1223.4 512,1223.4 514,1223.4 515,1223.4 517,1223.4 518,1223.4 520,1223.4 521,1223.4 523,1223.4 524,1223.4 526,1223.4 527,1223.4 529,1223.4 530,1223.4 532,1223.4 534,1223.4 535,1223.4 537,1223.4 538,1223.4 540,1223.4 541,1223.4 543,1223.4 544,1223.4 546,1223.4 547,1223.4 549,1223.4 550,1223.4 552,1223.4 553,1223.4 555,1223.4 556,1223.4 558,1223.4 559,1223.4 561,1223.4 563,1223.4 564,1223.4 566,1223.4 567,1223.4 569,1223.4 570,1223.4 572,1223.4 573,1223.4 575,1223.4 576,1223.4 578,1223.4 579,1223.4 581,1223.4 582,1223.4 584,1223.4 585,1223.4 587,1223.4 588,1223.4 590,1223.4 592,1223.4 593,1223.4 595,1223.4 596,1223.4 598,1223.4 599,1223.4 601,1223.4 602,1223.4 604,1223.4 605,1223.4 607,1223.4 608,1223.4 610,1223.4 611,1223.4" fill="none" stroke="#f00" stroke-width="4.2" stroke-linejoin="round" marker-start="url(#cir)" marker-mid="url(#cir)" marker-end="url(#cir)"/>
<polyline points="155,148.1 157,363.4 158,420.1 160,558.1 161,673.6 163,761.3 164,831.7 166,882.2 167,930.2 169,967.0 170,995.4 172,1019.0 173,1039.8 175,1056.4 176,1058.9 178,1097.0 179,1123.8 181,1141.5 182,1155.1 184,1165.1 186,1173.0 187,1178.7 189,1183.8 190,1188.3 192,1192.2 193,1195.8 195,1199.5 196,1203.3 198,1206.6 199,1209.3 201,1211.2 202,1212.7 204,1214.1 205,1215.3 207,1216.4 208,1217.3 210,1218.0 211,1218.6 213,1219.1 215,1219.6 216,1220.0 218,1220.4 219,1220.7 221,1221.0 222,1221.3 224,1221.5 225,1221.8 227,1221.9 228,1222.1 230,1222.3 231,1222.4 233,1222.5 234,1222.6 236,1222.7 237,1222.8 239,1222.9 240,1222.9 242,1223.0 244,1223.1 245,1223.1 247,1223.1 248,1223.2 250,1223.2 251,1223.2 253,1223.3 254,1223.3 256,1223.3 257,1223.3 259,1223.3 260,1223.4 262,1223.4 263,1223.4 265,1223.4 266,1223.4 268,1223.4 269,1223.4 271,1223.4 273,1223.4 274,1223.4 276,1223.4 277,1223.4 279,1223.4 280,1223.4 282,1223.4 283,1223.4 285,1223.4 286,1223.4 288,1223.4 289,1223.4 291,1223.4 292,1223.4 294,1223.4 295,1223.4 297,1223.4 298,1223.4 300,1223.4 302,1223.4 303,1223.4 305,1223.4 306,1223.4 308,1223.4 309,1223.4 311,1223.4 312,1223.4 314,1223.4 315,1223.4 317,1223.4 318,1223.4 320,1223.4 321,1223.4 323,1223.4 324,1223.4 326,1223.4 327,1223.4 329,1223.4 331,1223.4 332,1223.4 334,1223.4 335,1223.4 337,1223.4 338,1223.4 340,1223.4 341,1223.4 343,1223.4 344,1223.4 346,1223.4 347,1223.4 349,1223.4 350,1223.4 352,1223.4 353,1223.4 355,1223.4 356,1223.4 358,1223.4 360,1223.4 361,1223.4 363,1223.4 364,1223.4 366,1223.4 367,1223.4 369,1223.4 370,1223.4 372,1223.4 373,1223.4 375,1223.4 376,1223.4 378,1223.4 379,1223.4 381,1223.4 382,1223.4 384,1223.4 385,1223.4 387,1223.4 389,1223.4 390,1223.4 392,1223.4 393,1223.4 395,1223.4 396,1223.4 398,1223.4 399,1223.4 401,1223.4 402,1223.4 404,1223.4 405,1223.4 407,1223.4 408,1223.4 410,1223.4 411,1223.4 413,1223.4 414,1223.4 416,1223.4 418,1223.4 419,1223.4 421,1223.4 422,1223.4 424,1223.4 425,1223.4 427,1223.4 428,1223.4 430,1223.4 431,1223.4 433,1223.4 434,1223.4 436,1223.4 437,1223.4 439,1223.4 440,1223.4 442,1223.4 443,1223.4 445,1223.4 447,1223.4 448,1223.4 450,1223.4 451,1223.4 453,1223.4 454,1223.4 456,1223.4 457,1223.4 459,1223.4 460,1223.4 462,1223.4 463,1223.4 465,1223.4 466,1223.4 468,1223.4 469,1223.4 471,1223.4 472,1223.4 474,1223.4 476,1223.4 477,1223.4 479,1223.4 480,1223.4 482,1223.4 483,1223.4 485,1223.4 486,1223.4 488,1223.4 489,1223.4 491,1223.4 492,1223.4 494,1223.4 495,1223.4 497,1223.4 498,1223.4 500,1223.4 501,1223.4 503,1223.4 505,1223.4 506,1223.4 508,1223.4 509,1223.4 511,1223.4 512,1223.4 514,1223.4 515,1223.4 517,1223.4 518,1223.4 520,1223.4 521,1223.4 523,1223.4 524,1223.4 526,1223.4 527,1223.4 529,1223.4 530,1223.4 532,1223.4 534,1223.4 535,1223.4 537,1223.4 538,1223.4 540,1223.4 541,1223.4 543,1223.4 544,1223.4 546,1223.4 547,1223.4 549,1223.4 550,1223.4 552,1223.4 553,1223.4 555,1223.4 556,1223.4 558,1223.4 559,1223.4 561,1223.4 563,1223.4 564,1223.4 566,1223.4 567,1223.4 569,1223.4 570,1223.4 572,1223.4 573,1223.4 575,1223.4 576,1223.4 578,1223.4 579,1223.4 581,1223.4 582,1223.4 584,1223.4 585,1223.4 587,1223.4 588,1223.4 590,1223.4 592,1223.4 593,1223.4 595,1223.4 596,1223.4 598,1223.4 599,1223.4 601,1223.4 602,1223.4 604,1223.4 605,1223.4 607,1223.4 608,1223.4 610,1223.4 611,1223.4 613,1223.4 614,1223.4 616,1223.4 617,1223.4 619,1223.4 621,1223.4 622,1223.4 624,1223.4 625,1223.4 627,1223.4 628,1223.4 630,1223.4 631,1223.4 633,1223.4 634,1223.4 636,1223.4 637,1223.4 639,1223.4 640,1223.4 642,1223.4 643,1223.4 645,1223.4 646,1223.4 648,1223.4 650,1223.4 651,1223.4 653,1223.4 654,1223.4 656,1223.4 657,1223.4 659,1223.4 660,1223.4 662,1223.4 663,1223.4 665,1223.4 666,1223.4 668,1223.4 669,1223.4 671,1223.4 672,1223.4 674,1223.4 675,1223.4 677,1223.4 679,1223.4 680,1223.4 682,1223.4 683,1223.4 685,1223.4 686,1223.4 688,1223.4 689,1223.4 691,1223.4 692,1223.4 694,1223.4 695,1223.4 697,1223.4 698,1223.4 700,1223.4 701,1223.4 703,1223.4 704,1223.4 706,1223.4 708,1223.4 709,1223.4 711,1223.4 712,1223.4 714,1223.4 715,1223.4 717,1223.4 718,1223.4 720,1223.4 721,1223.4 723,1223.4 724,1223.4 726,1223.4 727,1223.4 729,1223.4 730,1223.4 732,1223.4 733,1223.4 735,1223.4 737,1223.4 738,1223.4 740,1223.4 741,1223.4 743,1223.4 744,1223.4 746,1223.4 747,1223.4 749,1223.4 750,1223.4 752,1223.4 753,1223.4 755,1223.4 756,1223.4 758,1223.4 759,1223.4 761,1223.4 762,1223.4 764,1223.4 766,1223.4 767,1223.4 769,1223.4 770,1223.4 772,1223.4 773,1223.4 775,1223.4 776,1223.4 778,1223.4 779,1223.4 781,1223.4 782,1223.4 784,1223.4 785,1223.4 787,1223.4 788,1223.4 790,1223.4 791,1223.4 793,1223.4 795,1223.4 796,1223.4 798,1223.4 799,1223.4 801,1223.4 802,1223.4 804,1223.4 805,1223.4 807,1223.4 808,1223.4 810,1223.4 811,1223.4 813,1223.4 814,1223.4 816,1223.4 817,1223.4 819,1223.4 820,1223.4 822,1223.4 824,1223.4 825,1223.4 827,1223.4 828,1223.4 830,1223.4 831,1223.4 833,1223.4 834,1223.4 836,1223.4 837,1223.4 839,1223.4 840,1223.4 842,1223.4 843,1223.4 845,1223.4 846,1223.4 848,1223.4 849,1223.4 851,1223.4 853,1223.4 854,1223.4 856,1223.4 857,1223.4 859,1223.4 860,1223.4 862,1223.4 863,1223.4 865,1223.4 866,1223.4 868,1223.4 869,1223.4 871,1223.4 872,1223.4 874,1223.4 875,1223.4 877,1223.4 878,1223.4 880,1223.4 882,1223.4 883,1223.4 885,1223.4 886,1223.4 888,1223.4 889,1223.4 891,1223.4 892,1223.4 894,1223.4 895,1223.4 897,1223.4 898,1223.4 900,1223.4 901,1223.4 903,1223.4 904,1223.4 906,1223.4 907,1223.4 909,1223.4 911,1223.4 912,1223.4 914,1223.4 915,1223.4 917,1223.4 918,1223.4 920,1223.4 921,1223.4 923,1223.4 924,1223.4 926,1223.4 927,1223.4 929,1223.4 930,1223.4 932,1223.4 933,1223.4 935,1223.4 936,1223.4 938,1223.4 940,1223.4 941,1223.4 943,1223.4 944,1223.4 946,1223.4 947,1223.4 949,1223.4 950,1223.4 952,1223.4 953,1223.4 955,1223.4 956,1223.4 958,1223.4 959,1223.4 961,1223.4 962,1223.4 964,1223.4 965,1223.4 967,1223.4 969,1223.4 970,1223.4 972,1223.4 973,1223.4 975,1223.4 976,1223.4 978,1223.4 979,1223.4 981,1223.4 982,1223.4 984,1223.4 985,1223.4 987,1223.4 988,1223.4 990,1223.4 991,1223.4 993,1223.4 994,1223.4 996,1223.4 998,1223.4 999,1223.4 1001,1223.4 1002,1223.4 1004,1223.4 1005,1223.4 1007,1223.4 1008,1223.4 1010,1223.4 1011,1223.4 1013,1223.4 1014,1223.4 1016,1223.4 1017,1223.4 1019,1223.4 1020,1223.4 1022,1223.4 1023,1223.4 1025,1223.4 1027,1223.4 1028,1223.4 1030,1223.4 1031,1223.4 1033,1223.4 1034,1223.4 1036,1223.4 1037,1223.4 1039,1223.4 1040,1223.4 1042,1223.4 1043,1223.4 1045,1223.4 1046,1223.4 1048,1223.4 1049,1223.4 1051,1223.4 1052,1223.4 1054,1223.4 1056,1223.4 1057,1223.4 1059,1223.4 1060,1223.4 1062,1223.4 1063,1223.4 1065,1223.4 1066,1223.4 1068,1223.4 1069,1223.4 1071,1223.4 1072,1223.4 1074,1223.4 1075,1223.4 1077,1223.4 1078,1223.4 1080,1223.4 1081,1223.4 1083,1223.4 1085,1223.4 1086,1223.4 1088,1223.4 1089,1223.4 1091,1223.4 1092,1223.4 1094,1223.4 1095,1223.4 1097,1223.4 1098,1223.4 1100,1223.4 1101,1223.4 1103,1223.4 1104,1223.4 1106,1223.4 1107,1223.4 1109,1223.4 1110,1223.4 1112,1223.4 1114,1223.4 1115,1223.4 1117,1223.4 1118,1223.4 1120,1223.4 1121,1223.4 1123,1223.4 1124,1223.4 1126,1223.4 1127,1223.4 1129,1223.4 1130,1223.4 1132,1223.4 1133,1223.4 1135,1223.4 1136,1223.4 1138,1223.4 1139,1223.4 1141,1223.4 1143,1223.4 1144,1223.4 1146,1223.4 1147,1223.4 1149,1223.4 1150,1223.4 1152,1223.4 1153,1223.4 1155,1223.4 1156,1223.4 1158,1223.4 1159,1223.4 1161,1223.4 1162,1223.4 1164,1223.4 1165,1223.4 1167,1223.4 1168,1223.4 1170,1223.4 1172,1223.4 1173,1223.4 1175,1223.4 1176,1223.4 1178,1223.4 1179,1223.4 1181,1223.4 1182,1223.4 1184,1223.4 1185,1223.4 1187,1223.4 1188,1223.4 1190,1223.4 1191,1223.4 1193,1223.4 1194,1223.4 1196,1223.4 1197,1223.4 1199,1223.4 1201,1223.4 1202,1223.4 1204,1223.4 1205,1223.4 1207,1223.4 1208,1223.4 1210,1223.4 1211,1223.4 1213,1223.4 1214,1223.4 1216,1223.4 1217,1223.4 1219,1223.4 1220,1223.4 1222,1223.4 1223,1223.4 1225,1223.4 1226,1223.4 1228,1223.4 1230,1223.4 1231,1223.4 1233,1223.4 1234,1223.4 1236,1223.4 1237,1223.4 1239,1223.4 1240,1223.4 1242,1223.4 1243,1223.4 1245,1223.4 1246,1223.4 1248,1223.4 1249,1223.4 1251,1223.4 1252,1223.4 1254,1223.4 1255,1223.4 1257,1223.4 1259,1223.4 1260,1223.4 1262,1223.4 1263,1223.4 1265,1223.4 1266,1223.4 1268,1223.4 1269,1223.4 1271,1223.4 1272,1223.4 1274,1223.4 1275,1223.4 1277,1223.4 1278,1223.4 1280,1223.4 1281,1223.4 1283,1223.4 1284,1223.4 1286,1223.4 1288,1223.4 1289,1223.4 1291,1223.4 1292,1223.4 1294,1223.4 1295,1223.4 1297,1223.4 1298,1223.4 1300,1223.4 1301,1223.4 1303,1223.4 1304,1223.4 1306,1223.4 1307,1223.4 1309,1223.4 1310,1223.4 1312,1223.4 1313,1223.4 1315,1223.4 1317,1223.4 1318,1223.4 1320,1223.4 1321,1223.4 1323,1223.4 1324,1223.4 1326,1223.4 1327,1223.4 1329,1223.4 1330,1223.4 1332,1223.4 1333,1223.4 1335,1223.4 1336,1223.4 1338,1223.4 1339,1223.4 1341,1223.4 1342,1223.4 1344,1223.4 1346,1223.4 1347,1223.4 1349,1223.4 1350,1223.4 1352,1223.4 1353,1223.4 1355,1223.4 1356,1223.4 1358,1223.4 1359,1223.4 1361,1223.4 1362,1223.4 1364,1223.4 1365,1223.4 1367,1223.4 1368,1223.4 1370,1223.4 1371,1223.4 1373,1223.4 1374,1223.4 1376,1223.4 1378,1223.4 1379,1223.4 1381,1223.4 1382,1223.4 1384,1223.4 1385,1223.4 1387,1223.4 1388,1223.4 1390,1223.4 1391,1223.4 1393,1223.4 1394,1223.4 1396,1223.4 1397,1223.4 1399,1223.4 1400,1223.4 1402,1223.4 1403,1223.4 1405,1223.4 1407,1223.4 1408,1223.4 1410,1223.4 1411,1223.4 1413,1223.4 1414,1223.4 1416,1223.4 1417,1223.4 1419,1223.4 1420,1223.4 1422,1223.4 1423,1223.4 1425,1223.4 1426,1223.4 1428,1223.4 1429,1223.4 1431,1223.4 1432,1223.4 1434,1223.4 1436,1223.4 1437,1223.4 1439,1223.4 1440,1223.4 1442,1223.4 1443,1223.4 1445,1223.4 1446,1223.4 1448,1223.4 1449,1223.4 1451,1223.4 1452,1223.4 1454,1223.4 1455,1223.4 1457,1223.4 1458,1223.4 1460,1223.4 1461,1223.4 1463,1223.4 1465,1223.4 1466,1223.4 1468,1223.4 1469,1223.4 1471,1223.4 1472,1223.4 1474,1223.4 1475,1223.4 1477,1223.4 1478,1223.4 1480,1223.4 1481,1223.4 1483,1223.4 1484,1223.4 1486,1223.4 1487,1223.4 1489,1223.4 1490,1223.4 1492,1223.4 1494,1223.4 1495,1223.4 1497,1223.4 1498,1223.4 1500,1223.4 1501,1223.4 1503,1223.4 1504,1223.4 1506,1223.4 1507,1223.4 1509,1223.4 1510,1223.4 1512,1223.4 1513,1223.4 1515,1223.4 1516,1223.4 1518,1223.4 1519,1223.4 1521,1223.4 1523,1223.4 1524,1223.4 1526,1223.4 1527,1223.4 1529,1223.4 1530,1223.4 1532,1223.4 1533,1223.4 1535,1223.4 1536,1223.4 1538,1223.4 1539,1223.4 1541,1223.4 1542,1223.4 1544,1223.4 1545,1223.4 1547,1223.4 1548,1223.4 1550,1223.4 1552,1223.4 1553,1223.4 1555,1223.4 1556,1223.4 1558,1223.4 1559,1223.4 1561,1223.4 1562,1223.4 1564,1223.4 1565,1223.4 1567,1223.4 1568,1223.4 1570,1223.4 1571,1223.4 1573,1223.4 1574,1223.4 1576,1223.4 1577,1223.4 1579,1223.4 1581,1223.4 1582,1223.4 1584,1223.4 1585,1223.4 1587,1223.4 1588,1223.4 1590,1223.4 1591,1223.4 1593,1223.4 1594,1223.4 1596,1223.4 1597,1223.4 1599,1223.4 1600,1223.4 1602,1223.4 1603,1223.4 1605,1223.4 1606,1223.4 1608,1223.4 1610,1223.4 1611,1223.4 1613,1223.4 1614,1223.4 1616,1223.4 1617,1223.4 1619,1223.4 1620,1223.4 1622,1223.4 1623,1223.4 1625,1223.4 1626,1223.4 1628,1223.4 1629,1223.4 1631,1223.4 1632,1223.4 1634,1223.4 1635,1223.4 1637,1223.4 1639,1223.4 1640,1223.4 1642,1223.4 1643,1223.4 1645,1223.4 1646,1223.4 1648,1223.4 1649,1223.4 1651,1223.4 1652,1223.4 1654,1223.4 1655,1223.4 1657,1223.4 1658,1223.4 1660,1223.4 1661,1223.4 1663,1223.4 1664,1223.4 1666,1223.4 1668,1223.4 1669,1223.4 1671,1223.4 1672,1223.4 1674,1223.4 1675,1223.4 1677,1223.4 1678,1223.4 1680,1223.4 1681,1223.4 1683,1223.4 1684,1223.4 1686,1223.4 1687,1223.4 1689,1223.4 1690,1223.4 1692,1223.4 1693,1223.4 1695,1223.4 1697,1223.4 1698,1223.4 1700,1223.4 1701,1223.4 1703,1223.4 1704,1223.4 1706,1223.4 1707,1223.4 1709,1223.4 1710,1223.4 1712,1223.4 1713,1223.4 1715,1223.4 1716,1223.4 1718,1223.4 1719,1223.4 1721,1223.4 1722,1223.4 1724,1223.4 1726,1223.4 1727,1223.4 1729,1223.4 1730,1223.4 1732,1223.4 1733,1223.4 1735,1223.4 1736,1223.4 1738,1223.4 1739,1223.4 1741,1223.4 1742,1223.4 1744,1223.4 1745,1223.4 1747,1223.4" fill="none" stroke="#f00" stroke-width="3.7" stroke-linejoin="round" marker-start="url(#sqr)" marker-mid="url(#sqr)" marker-end="url(#sqr)"/>
<polyline points="155,148.1 157,363.4 158,365.1 160,442.6 161,512.8 163,616.6 164,733.8 166,831.4 167,895.5 169,936.0 170,962.8 172,985.3 173,1008.1 175,1030.7 176,1050.4 178,1065.8 179,1084.8 181,1107.8 182,1130.0 184,1145.9 186,1157.3 187,1166.2 189,1173.8 190,1181.1 192,1187.6 193,1192.8 195,1197.0 196,1200.1 198,1202.6 199,1204.8 201,1206.8 202,1208.5 204,1210.1 205,1211.3 207,1213.1 208,1214.8 210,1216.1 211,1217.1 213,1217.9 215,1218.6 216,1219.0 218,1219.7 219,1220.1 221,1220.4 222,1220.6 224,1220.6 225,1220.7 227,1220.9 228,1221.0 230,1221.1 231,1221.2 233,1222.6 234,1222.6 236,1222.7 237,1222.8 239,1222.9 240,1223.0 242,1223.1 244,1223.2 245,1223.2 247,1223.2 248,1223.3 250,1223.3 251,1223.3 253,1223.3 254,1223.3 256,1223.4 257,1223.4 259,1223.4 260,1223.4 262,1223.4 263,1223.4 265,1223.4 266,1223.4 268,1223.4 269,1223.4 271,1223.4 273,1223.4 274,1223.4 276,1223.4 277,1223.4 279,1223.4 280,1223.4 282,1223.4 283,1223.4 285,1223.4 286,1223.4 288,1223.4 289,1223.4 291,1223.4 292,1223.4 294,1223.4 295,1223.4 297,1223.4 298,1223.4 300,1223.4 302,1223.4 303,1223.4 305,1223.4 306,1223.4 308,1223.4 309,1223.4 311,1223.4 312,1223.4 314,1223.4 315,1223.4 317,1223.4 318,1223.4 320,1223.4 321,1223.4 323,1223.4 324,1223.4 326,1223.4 327,1223.4 329,1223.4 331,1223.4 332,1223.4 334,1223.4 335,1223.4 337,1223.4 338,1223.4 340,1223.4 341,1223.4 343,1223.4 344,1223.4 346,1223.4 347,1223.4 349,1223.4 350,1223.4 352,1223.4 353,1223.4 355,1223.4 356,1223.4 358,1223.4 360,1223.4 361,1223.4 363,1223.4 364,1223.4 366,1223.4 367,1223.4 369,1223.4 370,1223.4 372,1223.4 373,1223.4 375,1223.4 376,1223.4 378,1223.4 379,1223.4 381,1223.4 382,1223.4 384,1223.4 385,1223.4 387,1223.4 389,1223.4 390,1223.4 392,1223.4 393,1223.4 395,1223.4 396,1223.4 398,1223.4 399,1223.4 401,1223.4 402,1223.4 404,1223.4 405,1223.4 407,1223.4 408,1223.4 410,1223.4 411,1223.4 413,1223.4 414,1223.4 416,1223.4 418,1223.4 419,1223.4 421,1223.4 422,1223.4 424,1223.4 425,1223.4 427,1223.4 428,1223.4 430,1223.4 431,1223.4 433,1223.4 434,1223.4 436,1223.4 437,1223.4 439,1223.4 440,1223.4 442,1223.4 443,1223.4 445,1223.4 447,1223.4 448,1223.4 450,1223.4 451,1223.4 453,1223.4 454,1223.4 456,1223.4 457,1223.4 459,1223.4 460,1223.4 462,1223.4 463,1223.4 465,1223.4 466,1223.4 468,1223.4 469,1223.4 471,1223.4 472,1223.4 474,1223.4 476,1223.4 477,1223.4 479,1223.4 480,1223.4 482,1223.4 483,1223.4 485,1223.4 486,1223.4 488,1223.4 489,1223.4 491,1223.4 492,1223.4 494,1223.4 495,1223.4 497,1223.4 498,1223.4 500,1223.4 501,1223.4 503,1223.4 505,1223.4 506,1223.4 508,1223.4 509,1223.4 511,1223.4 512,1223.4 514,1223.4 515,1223.4 517,1223.4 518,1223.4 520,1223.4 521,1223.4 523,1223.4 524,1223.4 526,1223.4 527,1223.4 529,1223.4 530,1223.4 532,1223.4 534,1223.4 535,1223.4 537,1223.4 538,1223.4 540,1223.4 541,1223.4 543,1223.4 544,1223.4 546,1223.4 547,1223.4 549,1223.4 550,1223.4 552,1223.4 553,1223.4 555,1223.4 556,1223.4 558,1223.4 559,1223.4 561,1223.4 563,1223.4 564,1223.4 566,1223.4 567,1223.4 569,1223.4 570,1223.4 572,1223.4 573,1223.4 575,1223.4 576,1223.4 578,1223.4 579,1223.4 581,1223.4 582,1223.4 584,1223.4 585,1223.4 587,1223.4 588,1223.4 590,1223.4 592,1223.4 593,1223.4 595,1223.4 596,1223.4 598,1223.4 599,1223.4 601,1223.4 602,1223.4 604,1223.4 605,1223.4 607,1223.4 608,1223.4 610,1223.4 611,1223.4 613,1223.4 614,1223.4 616,1223.4 617,1223.4 619,1223.4 621,1223.4 622,1223.4 624,1223.4 625,1223.4 627,1223.4 628,1223.4 630,1223.4 631,1223.4 633,1223.4 634,1223.4 636,1223.4 637,1223.4 639,1223.4 640,1223.4 642,1223.4 643,1223.4 645,1223.4 646,1223.4 648,1223.4 650,1223.4 651,1223.4 653,1223.4 654,1223.4 656,1223.4 657,1223.4 659,1223.4 660,1223.4 662,1223.4 663,1223.4 665,1223.4 666,1223.4 668,1223.4 669,1223.4 671,1223.4 672,1223.4 674,1223.4 675,1223.4 677,1223.4 679,1223.4 680,1223.4 682,1223.4 683,1223.4 685,1223.4 686,1223.4 688,1223.4 689,1223.4 691,1223.4 692,1223.4 694,1223.4 695,1223.4 697,1223.4 698,1223.4 700,1223.4 701,1223.4 703,1223.4 704,1223.4 706,1223.4 708,1223.4 709,1223.4 711,1223.4 712,1223.4 714,1223.4 715,1223.4 717,1223.4 718,1223.4 720,1223.4 721,1223.4 723,1223.4 724,1223.4 726,1223.4 727,1223.4 729,1223.4 730,1223.4 732,1223.4 733,1223.4 735,1223.4 737,1223.4 738,1223.4 740,1223.4 741,1223.4 743,1223.4 744,1223.4 746,1223.4 747,1223.4 749,1223.4 750,1223.4 752,1223.4 753,1223.4 755,1223.4 756,1223.4 758,1223.4 759,1223.4 761,1223.4 762,1223.4 764,1223.4 766,1223.4 767,1223.4 769,1223.4 770,1223.4 772,1223.4 773,1223.4 775,1223.4 776,1223.4 778,1223.4 779,1223.4 781,1223.4 782,1223.4 784,1223.4 785,1223.4 787,1223.4 788,1223.4 790,1223.4 791,1223.4 793,1223.4 795,1223.4 796,1223.4 798,1223.4 799,1223.4 801,1223.4 802,1223.4 804,1223.4 805,1223.4 807,1223.4 808,1223.4 810,1223.4 811,1223.4 813,1223.4 814,1223.4 816,1223.4 817,1223.4 819,1223.4 820,1223.4 822,1223.4 824,1223.4 825,1223.4 827,1223.4 828,1223.4 830,1223.4 831,1223.4 833,1223.4 834,1223.4 836,1223.4 837,1223.4 839,1223.4 840,1223.4 842,1223.4 843,1223.4 845,1223.4 846,1223.4 848,1223.4 849,1223.4 851,1223.4 853,1223.4 854,1223.4 856,1223.4 857,1223.4 859,1223.4 860,1223.4 862,1223.4 863,1223.4 865,1223.4 866,1223.4 868,1223.4 869,1223.4 871,1223.4 872,1223.4 874,1223.4 875,1223.4 877,1223.4 878,1223.4 880,1223.4 882,1223.4 883,1223.4 885,1223.4 886,1223.4 888,1223.4 889,1223.4 891,1223.4 892,1223.4 894,1223.4 895,1223.4 897,1223.4 898,1223.4 900,1223.4 901,1223.4 903,1223.4 904,1223.4 906,1223.4 907,1223.4 909,1223.4 911,1223.4 912,1223.4 914,1223.4 915,1223.4 917,1223.4 918,1223.4 920,1223.4 921,1223.4 923,1223.4 924,1223.4 926,1223.4 927,1223.4 929,1223.4 930,1223.4 932,1223.4 933,1223.4 935,1223.4 936,1223.4 938,1223.4 940,1223.4 941,1223.4 943,1223.4 944,1223.4 946,1223.4 947,1223.4 949,1223.4 950,1223.4 952,1223.4 953,1223.4 955,1223.4 956,1223.4 958,1223.4 959,1223.4 961,1223.4 962,1223.4 964,1223.4 965,1223.4 967,1223.4 969,1223.4 970,1223.4 972,1223.4 973,1223.4 975,1223.4 976,1223.4 978,1223.4 979,1223.4 981,1223.4 982,1223.4 984,1223.4 985,1223.4 987,1223.4 988,1223.4 990,1223.4 991,1223.4 993,1223.4 994,1223.4 996,1223.4 998,1223.4 999,1223.4 1001,1223.4 1002,1223.4 1004,1223.4 1005,1223.4 1007,1223.4 1008,1223.4 1010,1223.4 1011,1223.4 1013,1223.4 1014,1223.4 1016,1223.4 1017,1223.4 1019,1223.4 1020,1223.4 1022,1223.4 1023,1223.4 1025,1223.4 1027,1223.4 1028,1223.4 1030,1223.4 1031,1223.4 1033,1223.4 1034,1223.4 1036,1223.4 1037,1223.4 1039,1223.4 1040,1223.4 1042,1223.4 1043,1223.4 1045,1223.4 1046,1223.4 1048,1223.4 1049,1223.4 1051,1223.4 1052,1223.4 1054,1223.4 1056,1223.4 1057,1223.4 1059,1223.4 1060,1223.4 1062,1223.4 1063,1223.4 1065,1223.4 1066,1223.4 1068,1223.4 1069,1223.4 1071,1223.4 1072,1223.4 1074,1223.4 1075,1223.4 1077,1223.4 1078,1223.4 1080,1223.4 1081,1223.4 1083,1223.4 1085,1223.4 1086,1223.4 1088,1223.4 1089,1223.4 1091,1223.4 1092,1223.4 1094,1223.4 1095,1223.4 1097,1223.4 1098,1223.4 1100,1223.4 1101,1223.4 1103,1223.4 1104,1223.4 1106,1223.4 1107,1223.4 1109,1223.4 1110,1223.4 1112,1223.4 1114,1223.4 1115,1223.4 1117,1223.4 1118,1223.4 1120,1223.4 1121,1223.4 1123,1223.4 1124,1223.4 1126,1223.4 1127,1223.4 1129,1223.4 1130,1223.4 1132,1223.4 1133,1223.4 1135,1223.4 1136,1223.4 1138,1223.4 1139,1223.4 1141,1223.4 1143,1223.4 1144,1223.4 1146,1223.4 1147,1223.4 1149,1223.4 1150,1223.4 1152,1223.4 1153,1223.4 1155,1223.4 1156,1223.4 1158,1223.4 1159,1223.4 1161,1223.4 1162,1223.4 1164,1223.4 1165,1223.4 1167,1223.4 1168,1223.4 1170,1223.4 1172,1223.4 1173,1223.4 1175,1223.4 1176,1223.4 1178,1223.4 1179,1223.4 1181,1223.4 1182,1223.4 1184,1223.4 1185,1223.4 1187,1223.4 1188,1223.4 1190,1223.4 1191,1223.4 1193,1223.4 1194,1223.4 1196,1223.4 1197,1223.4 1199,1223.4 1201,1223.4 1202,1223.4 1204,1223.4 1205,1223.4 1207,1223.4 1208,1223.4 1210,1223.4 1211,1223.4 1213,1223.4 1214,1223.4 1216,1223.4 1217,1223.4 1219,1223.4 1220,1223.4 1222,1223.4 1223,1223.4 1225,1223.4 1226,1223.4 1228,1223.4 1230,1223.4 1231,1223.4 1233,1223.4 1234,1223.4 1236,1223.4 1237,1223.4 1239,1223.4 1240,1223.4 1242,1223.4 1243,1223.4 1245,1223.4 1246,1223.4 1248,1223.4 1249,1223.4 1251,1223.4 1252,1223.4 1254,1223.4 1255,1223.4 1257,1223.4 1259,1223.4 1260,1223.4 1262,1223.4 1263,1223.4 1265,1223.4 1266,1223.4 1268,1223.4 1269,1223.4 1271,1223.4 1272,1223.4 1274,1223.4 1275,1223.4 1277,1223.4 1278,1223.4 1280,1223.4 1281,1223.4 1283,1223.4 1284,1223.4 1286,1223.4 1288,1223.4 1289,1223.4 1291,1223.4 1292,1223.4 1294,1223.4 1295,1223.4 1297,1223.4 1298,1223.4 1300,1223.4 1301,1223.4 1303,1223.4 1304,1223.4 1306,1223.4 1307,1223.4 1309,1223.4 1310,1223.4 1312,1223.4 1313,1223.4 1315,1223.4 1317,1223.4 1318,1223.4 1320,1223.4 1321,1223.4 1323,1223.4 1324,1223.4 1326,1223.4 1327,1223.4 1329,1223.4 1330,1223.4 1332,1223.4 1333,1223.4 1335,1223.4 1336,1223.4 1338,1223.4 1339,1223.4 1341,1223.4 1342,1223.4 1344,1223.4 1346,1223.4 1347,1223.4 1349,1223.4 1350,1223.4 1352,1223.4 1353,1223.4 1355,1223.4 1356,1223.4 1358,1223.4 1359,1223.4 1361,1223.4 1362,1223.4" fill="none" stroke="#f00" stroke-width="4.2" stroke-linejoin="round" marker-start="url(#trr)" marker-mid="url(#trr)" marker-end="url(#trr)"/>
<rect x="260" y="1204" width="1091" height="39" fill="#f00"/>
<polyline points="155,148.1 157,363.4 158,491.2 160,805.3 161,880.8 163,1060.7 164,1083.3 166,1104.5 167,1123.8 169,1144.3 170,1145.6 172,1154.0 173,1170.0 175,1197.1 176,1200.6 178,1202.9 179,1208.2 181,1213.8 182,1217.0 184,1219.7 186,1219.9 187,1220.0 189,1220.1 190,1220.9 192,1220.9 193,1222.2 195,1222.2 196,1222.2 198,1222.2 199,1223.1 201,1223.3 202,1223.3 204,1223.3 205,1223.3 207,1223.3 208,1223.3 210,1223.3 211,1223.3 213,1223.3 215,1223.3 216,1223.3 218,1223.3 219,1223.3 221,1223.3 222,1223.3 224,1223.3 225,1223.3 227,1223.3 228,1223.4 230,1223.4 231,1223.4 233,1223.4 234,1223.4 236,1223.4 237,1223.4 239,1223.4 240,1223.4 242,1223.4 244,1223.4 245,1223.4 247,1223.4 248,1223.4 250,1223.4 251,1223.4 253,1223.4 254,1223.4 256,1223.4 257,1223.4 259,1223.4 260,1223.4 262,1223.4 263,1223.4 265,1223.4 266,1223.4 268,1223.4 269,1223.4 271,1223.4 273,1223.4 274,1223.4 276,1223.4 277,1223.4 279,1223.4 280,1223.4 282,1223.4 283,1223.4 285,1223.4 286,1223.4 288,1223.4 289,1223.4 291,1223.4 292,1223.4 294,1223.4 295,1223.4 297,1223.4 298,1223.4 300,1223.4 302,1223.4 303,1223.4 305,1223.4 306,1223.4 308,1223.4 309,1223.4 311,1223.4 312,1223.4 314,1223.4 315,1223.4 317,1223.4 318,1223.4 320,1223.4 321,1223.4 323,1223.4 324,1223.4 326,1223.4 327,1223.4 329,1223.4 331,1223.4 332,1223.4 334,1223.4 335,1223.4 337,1223.4 338,1223.4 340,1223.4 341,1223.4 343,1223.4 344,1223.4 346,1223.4 347,1223.4 349,1223.4 350,1223.4 352,1223.4 353,1223.4 355,1223.4 356,1223.4 358,1223.4 360,1223.4 361,1223.4 363,1223.4 364,1223.4 366,1223.4 367,1223.4 369,1223.4 370,1223.4 372,1223.4 373,1223.4 375,1223.4 376,1223.4 378,1223.4 379,1223.4 381,1223.4 382,1223.4 384,1223.4 385,1223.4 387,1223.4 389,1223.4 390,1223.4 392,1223.4 393,1223.4 395,1223.4 396,1223.4 398,1223.4 399,1223.4 401,1223.4 402,1223.4 404,1223.4 405,1223.4 407,1223.4 408,1223.4 410,1223.4 411,1223.4 413,1223.4 414,1223.4 416,1223.4 418,1223.4 419,1223.4 421,1223.4 422,1223.4 424,1223.4 425,1223.4 427,1223.4 428,1223.4 430,1223.4 431,1223.4 433,1223.4 434,1223.4 436,1223.4 437,1223.4 439,1223.4 440,1223.4 442,1223.4 443,1223.4 445,1223.4 447,1223.4 448,1223.4 450,1223.4 451,1223.4 453,1223.4 454,1223.4 456,1223.4 457,1223.4 459,1223.4 460,1223.4 462,1223.4 463,1223.4 465,1223.4 466,1223.4 468,1223.4 469,1223.4 471,1223.4 472,1223.4 474,1223.4 476,1223.4 477,1223.4 479,1223.4 480,1223.4 482,1223.4 483,1223.4 485,1223.4 486,1223.4 488,1223.4 489,1223.4 491,1223.4 492,1223.4 494,1223.4 495,1223.4 497,1223.4 498,1223.4 500,1223.4 501,1223.4 503,1223.4 505,1223.4 506,1223.4 508,1223.4 509,1223.4 511,1223.4 512,1223.4 514,1223.4 515,1223.4 517,1223.4 518,1223.4 520,1223.4 521,1223.4 523,1223.4 524,1223.4 526,1223.4 527,1223.4 529,1223.4 530,1223.4 532,1223.4 534,1223.4 535,1223.4 537,1223.4 538,1223.4 540,1223.4 541,1223.4 543,1223.4 544,1223.4 546,1223.4 547,1223.4 549,1223.4 550,1223.4 552,1223.4 553,1223.4 555,1223.4 556,1223.4 558,1223.4 559,1223.4 561,1223.4 563,1223.4 564,1223.4 566,1223.4 567,1223.4 569,1223.4 570,1223.4 572,1223.4 573,1223.4 575,1223.4 576,1223.4 578,1223.4 579,1223.4 581,1223.4 582,1223.4 584,1223.4 585,1223.4 587,1223.4 588,1223.4 590,1223.4 592,1223.4 593,1223.4 595,1223.4 596,1223.4 598,1223.4 599,1223.4 601,1223.4 602,1223.4 604,1223.4 605,1223.4 607,1223.4 608,1223.4 610,1223.4 611,1223.4 613,1223.4 614,1223.4 616,1223.4 617,1223.4 619,1223.4 621,1223.4 622,1223.4 624,1223.4 625,1223.4 627,1223.4 628,1223.4 630,1223.4 631,1223.4 633,1223.4 634,1223.4 636,1223.4 637,1223.4 639,1223.4 640,1223.4 642,1223.4 643,1223.4 645,1223.4 646,1223.4 648,1223.4 650,1223.4 651,1223.4 653,1223.4 654,1223.4 656,1223.4 657,1223.4 659,1223.4 660,1223.4 662,1223.4 663,1223.4" fill="none" stroke="#00f" stroke-width="3.7" stroke-linejoin="round" marker-start="url(#sqb)" marker-mid="url(#sqb)" marker-end="url(#sqb)"/>
<rect x="507.5" y="178.0" width="828.0" height="953.0" fill="#fff"/>
<g fill="#262626"><rect x="506" y="176" width="3" height="957"/><rect x="1334" y="176" width="3" height="957"/><rect x="506" y="176" width="831" height="4"/><rect x="506" y="1129" width="831" height="4"/></g><path d="M673.1,1131.0v-10M673.1,178.0v10M838.7,1131.0v-10M838.7,178.0v10M1004.3,1131.0v-10M1004.3,178.0v10M1169.9,1131.0v-10M1169.9,178.0v10M507.5,940.4h10M1335.5,940.4h-10M507.5,749.8h10M1335.5,749.8h-10M507.5,559.2h10M1335.5,559.2h-10M507.5,368.6h10M1335.5,368.6h-10" fill="none" stroke="#262626" stroke-width="3.5"/>
<g fill="#262626" font-size="46.5">
<text transform="translate(506.50,1192.90) scale(1,1.045)" text-anchor="middle">10</text>
<text transform="translate(672.10,1192.90) scale(1,1.045)" text-anchor="middle">20</text>
<text transform="translate(837.70,1192.90) scale(1,1.045)" text-anchor="middle">30</text>
<text transform="translate(1003.30,1192.90) scale(1,1.045)" text-anchor="middle">40</text>
<text transform="translate(1168.90,1192.90) scale(1,1.045)" text-anchor="middle">50</text>
<text transform="translate(1334.50,1192.90) scale(1,1.045)" text-anchor="middle">60</text>
<text transform="translate(490.70,1147.70) scale(1,1.045)" text-anchor="end">0</text>
<text transform="translate(490.70,957.10) scale(1,1.045)" text-anchor="end">0.5</text>
<text transform="translate(490.70,766.50) scale(1,1.045)" text-anchor="end">1</text>
<text transform="translate(490.70,575.90) scale(1,1.045)" text-anchor="end">1.5</text>
<text transform="translate(490.70,385.30) scale(1,1.045)" text-anchor="end">2</text>
<text transform="translate(490.70,194.70) scale(1,1.045)" text-anchor="end">2.5</text>
<text transform="translate(509.50,173.40)" font-size="54">×</text><text transform="translate(545.00,167.00) scale(1,1.045)">10</text><text transform="translate(596.50,146.00)" font-size="36.5">6</text>
</g>
<polyline points="508,495.9 524,498.2 541,500.4 557,502.6 574,504.9 590,507.1 607,509.3 623,511.5 640,513.8 657,516.0 673,518.2 690,520.5 706,522.7 723,524.9 739,527.2 756,529.4 772,531.6 789,533.9 806,536.1 822,538.3 839,540.6 855,542.8 872,545.0 888,547.3 905,549.5 922,551.7 938,554.0 955,556.2 971,558.4 988,955.4 1004,957.0 1021,958.6 1037,960.2 1054,961.8 1071,963.4 1087,965.0 1104,966.6 1120,968.2 1137,969.8 1153,971.4 1170,973.0 1186,974.6 1203,976.2 1220,977.8 1236,1026.9 1253,1056.1 1269,1072.0 1286,1075.7 1302,1078.1" fill="none" stroke="#000" stroke-width="3.7" stroke-linejoin="round" marker-start="url(#stk)" marker-mid="url(#stk)" marker-end="url(#stk)"/>
<polyline points="508,250.4 524,346.9 541,427.7 557,496.3 574,555.4 590,572.5 607,702.1 623,777.2 640,834.2 657,878.4 673,914.9 690,946.1 706,970.9 723,993.8 739,1009.0 756,1023.1 772,1030.0 789,1044.1 806,1058.2 822,1068.5 839,1075.7 855,1082.2 872,1087.9 888,1092.9 905,1097.5 922,1101.3 938,1105.1 955,1108.9 971,1112.3 988,1115.1 1004,1116.1 1021,1117.3 1037,1118.0 1054,1118.6 1071,1119.0 1087,1119.3 1104,1119.9 1120,1120.7 1137,1121.5 1153,1122.3 1170,1123.1 1186,1124.5 1203,1125.9 1220,1126.4 1236,1126.9 1253,1127.2 1269,1127.2 1286,1127.3 1302,1127.4" fill="none" stroke="#000" stroke-width="4.2" stroke-linejoin="round" marker-start="url(#cik)" marker-mid="url(#cik)" marker-end="url(#cik)"/>
<polyline points="508,615.2 524,685.4 541,739.5 557,784.9 574,824.1 590,857.9 607,888.2 623,917.5 640,944.2 657,967.1 673,986.1 690,1016.6 706,1068.9 723,1072.7 739,1081.1 756,1090.8 772,1101.1 789,1110.0 806,1115.8 822,1119.6 839,1120.4 855,1121.2 872,1122.0 888,1122.7 905,1123.3 922,1123.9 938,1124.4 955,1124.9 971,1125.4 988,1125.8 1004,1126.2 1021,1126.6 1037,1126.9 1054,1127.2 1071,1127.5 1087,1127.8 1104,1128.0 1120,1128.3 1137,1128.5 1153,1128.7 1170,1128.8 1186,1129.0 1203,1129.2 1220,1129.3 1236,1129.4 1253,1129.5 1269,1129.7 1286,1129.8 1302,1129.9" fill="none" stroke="#000" stroke-width="3.7" stroke-linejoin="round" marker-start="url(#sqk)" marker-mid="url(#sqk)" marker-end="url(#sqk)"/>
<polyline points="508,324.4 524,414.7 541,490.6 557,555.0 574,606.9 590,608.8 607,815.9 623,879.4 640,917.1 657,949.5 673,974.7 690,995.7 706,1010.3 723,1023.4 739,1035.1 756,1045.5 772,1054.8 789,1066.2 806,1076.7 822,1085.5 839,1092.9 855,1097.5 872,1101.9 888,1105.7 905,1109.0 922,1111.9 938,1114.2 955,1116.0 971,1117.5 988,1118.9 1004,1120.2 1021,1121.3 1037,1122.3 1054,1123.2 1071,1124.0 1087,1124.7 1104,1125.4 1120,1125.9 1137,1126.5 1153,1126.9 1170,1127.4 1186,1127.7 1203,1128.1 1220,1128.4 1236,1128.6 1253,1128.9 1269,1129.1 1286,1129.3 1302,1129.5" fill="none" stroke="#f00" stroke-width="3.7" stroke-linejoin="round" marker-start="url(#str)" marker-mid="url(#str)" marker-end="url(#str)"/>
<polyline points="508,673.6 524,731.9 541,782.6 557,824.5 574,861.1 590,892.4 607,919.4 623,921.3 640,950.3 657,981.6 673,1005.2 690,1022.4 706,1033.8 723,1043.3 739,1052.9 756,1062.4 772,1070.0 789,1084.5 806,1094.8 822,1101.3 839,1106.6 855,1110.8 872,1112.8 888,1114.7 905,1116.3 922,1117.8 938,1119.1 955,1120.3 971,1121.4 988,1122.4 1004,1123.2 1021,1124.0 1037,1124.7 1054,1125.4 1071,1125.9 1087,1126.4 1104,1126.9 1120,1127.3 1137,1127.7 1153,1128.0 1170,1128.3 1186,1128.6 1203,1128.8 1220,1129.1 1236,1129.3 1253,1129.4 1269,1129.6 1286,1129.7 1302,1129.9" fill="none" stroke="#f00" stroke-width="4.2" stroke-linejoin="round" marker-start="url(#cir)" marker-mid="url(#cir)" marker-end="url(#cir)"/>
<polyline points="508,337.3 524,425.4 541,498.2 557,562.6 574,614.1 590,621.7 607,739.5 623,822.6 640,877.3 657,919.4 673,950.3 690,974.7 706,992.4 723,1008.1 739,1022.0 756,1034.3 772,1045.2 789,1056.7 806,1068.7 822,1078.7 839,1087.2 855,1092.9 872,1097.7 888,1102.0 905,1105.7 922,1108.9 938,1111.9 955,1114.0 971,1115.9 988,1117.5 1004,1119.0 1021,1120.3 1037,1121.4 1054,1122.5 1071,1123.4 1087,1124.2 1104,1125.0 1120,1125.6 1137,1126.2 1153,1126.7 1170,1127.2 1186,1127.6 1203,1128.0 1220,1128.3 1236,1128.6 1253,1128.8 1269,1129.1 1286,1129.3 1302,1129.5" fill="none" stroke="#f00" stroke-width="3.7" stroke-linejoin="round" marker-start="url(#sqr)" marker-mid="url(#sqr)" marker-end="url(#sqr)"/>
<polyline points="508,241.7 524,324.4 541,394.1 557,464.7 574,534.4 590,595.4 607,643.1 623,701.8 640,773.1 657,841.8 673,890.8 690,926.1 706,953.7 723,977.4 739,999.9 756,1020.1 772,1036.1 789,1049.0 806,1058.6 822,1066.2 839,1073.1 855,1079.3 872,1084.5 888,1089.6 905,1093.1 922,1099.0 938,1104.1 955,1108.1 971,1111.2 988,1113.5 1004,1115.9 1021,1117.2 1037,1119.1 1054,1120.4 1071,1121.3 1087,1121.9 1104,1122.1 1120,1122.4 1137,1122.8 1153,1123.2 1170,1123.6 1186,1123.8 1203,1128.1 1220,1128.3 1236,1128.5 1253,1128.7 1269,1129.1 1286,1129.5 1302,1129.9" fill="none" stroke="#f00" stroke-width="4.2" stroke-linejoin="round" marker-start="url(#trr)" marker-mid="url(#trr)" marker-end="url(#trr)"/>
<polyline points="508,885.9 524,890.1 541,916.0 557,965.6 574,1049.4 590,1060.1 607,1067.3 623,1083.7 640,1101.1 657,1110.8 673,1119.3 690,1119.9 706,1120.3 723,1120.5 739,1123.0 756,1123.0 772,1127.0 789,1127.0 806,1127.0 822,1127.0 839,1129.9 855,1130.2 872,1130.2 888,1130.2 905,1130.2 922,1130.2 938,1130.3 955,1130.3 971,1130.4 988,1130.4 1004,1130.4 1021,1130.4 1037,1130.4 1054,1130.4 1071,1130.5 1087,1130.5 1104,1130.5 1120,1130.5 1137,1130.5 1153,1130.5 1170,1130.6 1186,1130.6 1203,1130.6 1220,1130.6 1236,1130.6 1253,1130.6 1269,1130.6 1286,1130.6 1302,1130.6" fill="none" stroke="#00f" stroke-width="3.7" stroke-linejoin="round" marker-start="url(#sqb)" marker-mid="url(#sqb)" marker-end="url(#sqb)"/>
<rect x="1253" y="1056" width="16" height="13.5" fill="none" stroke="#000" stroke-width="3.4"/>
<path d="M271.5,1171.3L478,1052" stroke="#000" stroke-width="3.6" fill="none"/>
<path d="M508.8,1034.4L456.9,1043.7L477.2,1052.3L475.1,1075.7Z" fill="#000" stroke="#000" stroke-width="1" stroke-linejoin="miter"/>
<rect x="1587" y="148" width="337" height="492" fill="#262626"/><rect x="1590" y="151" width="330" height="486" fill="#fff"/>
<g font-size="43.2" fill="#000">
<polyline points="1601.7,185.4 1675.0,185.4 1747.1,185.4" fill="none" stroke="#000" stroke-width="3.1" marker-mid="url(#stk)"/>
<text transform="translate(1757.70,203.20) scale(1,1.01)">VFR</text>
<polyline points="1601.7,245.0 1675.0,245.0 1747.1,245.0" fill="none" stroke="#000" stroke-width="4.2" marker-mid="url(#cik)"/>
<text transform="translate(1757.70,262.80) scale(1,1.01)">SCG</text>
<polyline points="1601.7,304.6 1674.5,304.6 1747.1,304.6" fill="none" stroke="#000" stroke-width="3.1" marker-mid="url(#sqk)"/>
<text transform="translate(1757.70,322.40) scale(1,1.01)">HS</text>
<polyline points="1601.7,364.2 1675.0,364.2 1747.1,364.2" fill="none" stroke="#f00" stroke-width="3.1" marker-mid="url(#str)"/>
<text transform="translate(1757.70,382.00) scale(1,1.01)">LS</text>
<polyline points="1601.7,423.8 1675.0,423.8 1747.1,423.8" fill="none" stroke="#f00" stroke-width="4.2" marker-mid="url(#cir)"/>
<text transform="translate(1757.70,441.60) scale(1,1.01)">MCD</text>
<polyline points="1601.7,483.6 1674.5,483.6 1747.1,483.6" fill="none" stroke="#f00" stroke-width="3.1" marker-mid="url(#sqr)"/>
<text transform="translate(1757.70,501.40) scale(1,1.01)">MPRP</text>
<polyline points="1601.7,543.0 1675.0,543.0 1747.1,543.0" fill="none" stroke="#f00" stroke-width="4.2" marker-mid="url(#trr)"/>
<text transform="translate(1757.70,560.80) scale(1,1.01)">NTTCG</text>
<polyline points="1601.7,602.4 1674.5,602.4 1747.1,602.4" fill="none" stroke="#00f" stroke-width="3.1" marker-mid="url(#sqb)"/>
<text transform="translate(1757.70,620.20) scale(1,1.01)">IHCG</text>
</g>
</svg></body></html>
